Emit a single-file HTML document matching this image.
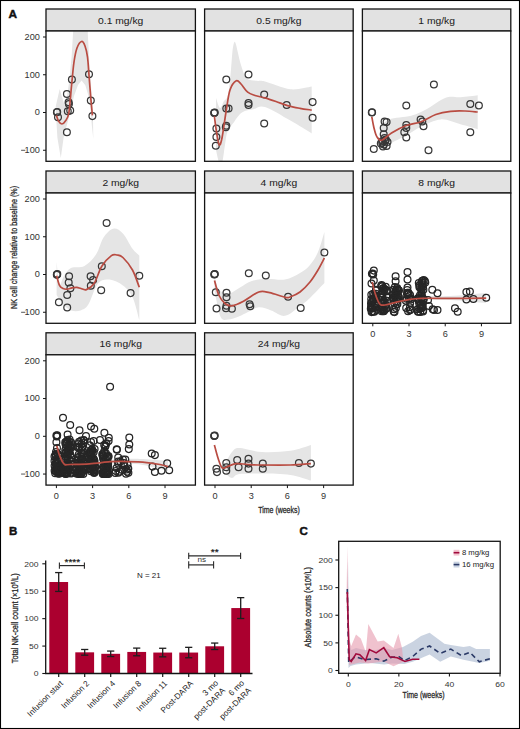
<!DOCTYPE html>
<html><head><meta charset="utf-8"><style>
html,body{margin:0;padding:0;background:#fff;}
svg{display:block;font-family:"Liberation Sans", sans-serif;}
</style></head><body>
<svg width="520" height="729" viewBox="0 0 520 729">
<rect x="0" y="0" width="520" height="729" fill="#fff"/>
<rect x="46.00" y="9.00" width="149.40" height="22.00" fill="#e2e2e2" stroke="#141414" stroke-width="1.3"/>
<text transform="translate(120.70,23.65) scale(1.12,1)" font-size="9.2" text-anchor="middle" fill="#222" font-weight="normal" stroke="#222" stroke-width="0.05" >0.1 mg/kg</text>
<clipPath id="cp00"><rect x="46.00" y="31.00" width="149.40" height="130.30"/></clipPath>
<rect x="46.00" y="31.00" width="149.40" height="130.30" fill="#fff" stroke="none"/>
<g clip-path="url(#cp00)">
<polygon points="55.8,106.0 59.7,89.0 62.0,97.0 64.1,104.0 67.0,96.0 69.3,80.4 71.7,55.7 73.0,33.5 73.5,28.0 88.0,28.0 87.8,33.5 89.6,68.0 91.5,92.7 93.0,120.0 93.3,139.0 93.3,139.0 91.8,125.0 90.3,108.0 88.5,96.0 85.3,85.3 81.6,80.4 78.0,85.0 74.0,96.0 70.0,114.0 66.0,128.0 63.6,137.8 60.8,158.0 57.4,137.8 55.8,112.0" fill="#e5e5e5"/>
<circle cx="56.9" cy="112.2" r="3.4" fill="none" stroke="#383838" stroke-width="1.25"/>
<circle cx="57.2" cy="111.9" r="3.4" fill="none" stroke="#383838" stroke-width="1.25"/>
<circle cx="58.0" cy="117.2" r="3.4" fill="none" stroke="#383838" stroke-width="1.25"/>
<circle cx="66.9" cy="93.9" r="3.4" fill="none" stroke="#383838" stroke-width="1.25"/>
<circle cx="68.6" cy="102.2" r="3.4" fill="none" stroke="#383838" stroke-width="1.25"/>
<circle cx="68.9" cy="104.0" r="3.4" fill="none" stroke="#383838" stroke-width="1.25"/>
<circle cx="70.2" cy="110.6" r="3.4" fill="none" stroke="#383838" stroke-width="1.25"/>
<circle cx="67.8" cy="111.2" r="3.4" fill="none" stroke="#383838" stroke-width="1.25"/>
<circle cx="66.9" cy="132.2" r="3.4" fill="none" stroke="#383838" stroke-width="1.25"/>
<circle cx="71.9" cy="79.6" r="3.4" fill="none" stroke="#383838" stroke-width="1.25"/>
<circle cx="89.0" cy="74.3" r="3.4" fill="none" stroke="#383838" stroke-width="1.25"/>
<circle cx="90.8" cy="100.6" r="3.4" fill="none" stroke="#383838" stroke-width="1.25"/>
<circle cx="92.4" cy="116.1" r="3.4" fill="none" stroke="#383838" stroke-width="1.25"/>
<path d="M56.40,115.40 C56.75,116.33 57.58,119.57 58.50,121.00 C59.42,122.43 60.75,124.00 61.90,124.00 C63.05,124.00 64.23,122.90 65.40,121.00 C66.57,119.10 67.87,118.60 68.90,112.60 C69.93,106.60 70.75,93.43 71.60,85.00 C72.45,76.57 73.10,68.17 74.00,62.00 C74.90,55.83 75.73,51.42 77.00,48.00 C78.27,44.58 80.27,41.83 81.60,41.50 C82.93,41.17 84.02,43.42 85.00,46.00 C85.98,48.58 86.83,52.13 87.50,57.00 C88.17,61.87 88.45,68.37 89.00,75.20 C89.55,82.03 90.23,91.30 90.80,98.00 C91.37,104.70 92.13,112.50 92.40,115.40" fill="none" stroke="#b94c42" stroke-width="1.7"/>
</g>
<rect x="46.00" y="31.00" width="149.40" height="130.30" fill="none" stroke="#141414" stroke-width="1.3"/>
<line x1="43.00" y1="37.00" x2="46.00" y2="37.00" stroke="#141414" stroke-width="1"/>
<text transform="translate(39.90,39.90) scale(1.12,1)" font-size="8.2" text-anchor="end" fill="#333" font-weight="normal" >200</text>
<line x1="43.00" y1="74.75" x2="46.00" y2="74.75" stroke="#141414" stroke-width="1"/>
<text transform="translate(39.90,77.65) scale(1.12,1)" font-size="8.2" text-anchor="end" fill="#333" font-weight="normal" >100</text>
<line x1="43.00" y1="112.50" x2="46.00" y2="112.50" stroke="#141414" stroke-width="1"/>
<text transform="translate(39.90,115.40) scale(1.12,1)" font-size="8.2" text-anchor="end" fill="#333" font-weight="normal" >0</text>
<line x1="43.00" y1="150.25" x2="46.00" y2="150.25" stroke="#141414" stroke-width="1"/>
<text transform="translate(39.90,153.15) scale(1.12,1)" font-size="8.2" text-anchor="end" fill="#333" font-weight="normal" >100</text>
<rect x="21.1" y="149.80" width="4.2" height="0.9" fill="#444"/>
<rect x="204.60" y="9.00" width="148.60" height="22.00" fill="#e2e2e2" stroke="#141414" stroke-width="1.3"/>
<text transform="translate(278.90,23.65) scale(1.12,1)" font-size="9.2" text-anchor="middle" fill="#222" font-weight="normal" stroke="#222" stroke-width="0.05" >0.5 mg/kg</text>
<clipPath id="cp01"><rect x="204.60" y="31.00" width="148.60" height="130.30"/></clipPath>
<rect x="204.60" y="31.00" width="148.60" height="130.30" fill="#fff" stroke="none"/>
<g clip-path="url(#cp01)">
<path d="M216.00,98.00 C216.67,99.67 218.67,107.50 220.00,108.00 C221.33,108.50 222.75,102.83 224.00,101.00 C225.25,99.17 226.63,99.33 227.50,97.00 C228.37,94.67 228.62,91.57 229.20,87.00 C229.78,82.43 230.43,75.77 231.00,69.60 C231.57,63.43 232.03,54.62 232.60,50.00 C233.17,45.38 233.83,42.82 234.40,41.90 C234.97,40.98 235.43,42.77 236.00,44.50 C236.57,46.23 236.92,48.70 237.80,52.30 C238.68,55.90 239.85,61.78 241.30,66.10 C242.75,70.42 243.90,75.75 246.50,78.20 C249.10,80.65 253.82,80.23 256.90,80.80 C259.98,81.37 259.42,80.18 265.00,81.60 C270.58,83.02 282.62,88.48 290.40,89.30 C298.18,90.12 308.15,86.97 311.70,86.50 L311.70,133.40 C308.15,131.27 298.18,125.00 290.40,120.60 C282.62,116.20 271.17,108.88 265.00,107.00 C258.83,105.12 256.77,108.63 253.40,109.30 C250.03,109.97 247.10,110.13 244.80,111.00 C242.50,111.87 241.33,112.77 239.60,114.50 C237.87,116.23 236.42,118.52 234.40,121.40 C232.38,124.28 229.08,127.77 227.50,131.80 C225.92,135.83 225.77,140.57 224.90,145.60 C224.03,150.63 223.28,159.27 222.30,162.00 C221.32,164.73 220.05,164.00 219.00,162.00 C217.95,160.00 216.50,152.00 216.00,150.00 Z" fill="#e5e5e5"/>
<circle cx="214.4" cy="112.7" r="3.4" fill="none" stroke="#383838" stroke-width="1.25"/>
<circle cx="214.7" cy="112.4" r="3.4" fill="none" stroke="#383838" stroke-width="1.25"/>
<circle cx="214.2" cy="113.0" r="3.4" fill="none" stroke="#383838" stroke-width="1.25"/>
<circle cx="216.4" cy="128.6" r="3.4" fill="none" stroke="#383838" stroke-width="1.25"/>
<circle cx="216.4" cy="136.9" r="3.4" fill="none" stroke="#383838" stroke-width="1.25"/>
<circle cx="215.8" cy="145.7" r="3.4" fill="none" stroke="#383838" stroke-width="1.25"/>
<circle cx="225.8" cy="127.2" r="3.4" fill="none" stroke="#383838" stroke-width="1.25"/>
<circle cx="226.3" cy="125.8" r="3.4" fill="none" stroke="#383838" stroke-width="1.25"/>
<circle cx="226.3" cy="108.4" r="3.4" fill="none" stroke="#383838" stroke-width="1.25"/>
<circle cx="228.6" cy="108.4" r="3.4" fill="none" stroke="#383838" stroke-width="1.25"/>
<circle cx="226.3" cy="79.4" r="3.4" fill="none" stroke="#383838" stroke-width="1.25"/>
<circle cx="248.5" cy="74.5" r="3.4" fill="none" stroke="#383838" stroke-width="1.25"/>
<circle cx="248.5" cy="103.0" r="3.4" fill="none" stroke="#383838" stroke-width="1.25"/>
<circle cx="248.5" cy="105.0" r="3.4" fill="none" stroke="#383838" stroke-width="1.25"/>
<circle cx="264.2" cy="94.5" r="3.4" fill="none" stroke="#383838" stroke-width="1.25"/>
<circle cx="264.2" cy="123.5" r="3.4" fill="none" stroke="#383838" stroke-width="1.25"/>
<circle cx="286.7" cy="105.0" r="3.4" fill="none" stroke="#383838" stroke-width="1.25"/>
<circle cx="312.6" cy="102.1" r="3.4" fill="none" stroke="#383838" stroke-width="1.25"/>
<circle cx="312.6" cy="117.8" r="3.4" fill="none" stroke="#383838" stroke-width="1.25"/>
<path d="M214.40,116.40 C214.75,119.00 215.70,127.27 216.50,132.00 C217.30,136.73 218.28,143.80 219.20,144.80 C220.12,145.80 220.87,143.47 222.00,138.00 C223.13,132.53 224.67,120.00 226.00,112.00 C227.33,104.00 228.28,95.20 230.00,90.00 C231.72,84.80 234.47,81.80 236.30,80.80 C238.13,79.80 239.10,82.10 241.00,84.00 C242.90,85.90 245.37,90.28 247.70,92.20 C250.03,94.12 252.15,94.55 255.00,95.50 C257.85,96.45 261.30,96.90 264.80,97.90 C268.30,98.90 272.22,100.22 276.00,101.50 C279.78,102.78 283.50,104.47 287.50,105.60 C291.50,106.73 295.97,107.55 300.00,108.30 C304.03,109.05 309.75,109.80 311.70,110.10" fill="none" stroke="#b94c42" stroke-width="1.7"/>
</g>
<rect x="204.60" y="31.00" width="148.60" height="130.30" fill="none" stroke="#141414" stroke-width="1.3"/>
<rect x="362.40" y="9.00" width="148.40" height="22.00" fill="#e2e2e2" stroke="#141414" stroke-width="1.3"/>
<text transform="translate(436.60,23.65) scale(1.12,1)" font-size="9.2" text-anchor="middle" fill="#222" font-weight="normal" stroke="#222" stroke-width="0.05" >1 mg/kg</text>
<clipPath id="cp02"><rect x="362.40" y="31.00" width="148.40" height="130.30"/></clipPath>
<rect x="362.40" y="31.00" width="148.40" height="130.30" fill="#fff" stroke="none"/>
<g clip-path="url(#cp02)">
<path d="M380.00,128.00 C381.50,126.57 383.80,121.45 389.00,119.40 C394.20,117.35 405.03,117.35 411.20,115.70 C417.37,114.05 420.25,112.50 426.00,109.50 C431.75,106.50 439.95,99.75 445.70,97.70 C451.45,95.65 455.17,97.60 460.50,97.20 C465.83,96.80 474.83,95.62 477.70,95.30 L477.70,129.20 C474.83,128.38 466.65,125.93 460.50,124.30 C454.35,122.67 447.38,118.98 440.80,119.40 C434.22,119.82 426.75,124.13 421.00,126.80 C415.25,129.47 411.63,132.53 406.30,135.40 C400.97,138.27 393.38,141.57 389.00,144.00 C384.62,146.43 381.50,149.00 380.00,150.00 Z" fill="#e5e5e5"/>
<circle cx="371.8" cy="112.5" r="3.4" fill="none" stroke="#383838" stroke-width="1.25"/>
<circle cx="372.1" cy="112.2" r="3.4" fill="none" stroke="#383838" stroke-width="1.25"/>
<circle cx="373.8" cy="148.9" r="3.4" fill="none" stroke="#383838" stroke-width="1.25"/>
<circle cx="384.6" cy="121.4" r="3.4" fill="none" stroke="#383838" stroke-width="1.25"/>
<circle cx="386.6" cy="122.1" r="3.4" fill="none" stroke="#383838" stroke-width="1.25"/>
<circle cx="383.7" cy="128.0" r="3.4" fill="none" stroke="#383838" stroke-width="1.25"/>
<circle cx="383.7" cy="134.2" r="3.4" fill="none" stroke="#383838" stroke-width="1.25"/>
<circle cx="382.2" cy="142.8" r="3.4" fill="none" stroke="#383838" stroke-width="1.25"/>
<circle cx="385.4" cy="140.3" r="3.4" fill="none" stroke="#383838" stroke-width="1.25"/>
<circle cx="386.6" cy="146.0" r="3.4" fill="none" stroke="#383838" stroke-width="1.25"/>
<circle cx="384.6" cy="138.0" r="3.4" fill="none" stroke="#383838" stroke-width="1.25"/>
<circle cx="382.5" cy="141.0" r="3.4" fill="none" stroke="#383838" stroke-width="1.25"/>
<circle cx="384.0" cy="144.5" r="3.4" fill="none" stroke="#383838" stroke-width="1.25"/>
<circle cx="385.8" cy="139.5" r="3.4" fill="none" stroke="#383838" stroke-width="1.25"/>
<circle cx="383.0" cy="146.5" r="3.4" fill="none" stroke="#383838" stroke-width="1.25"/>
<circle cx="380.8" cy="143.5" r="3.4" fill="none" stroke="#383838" stroke-width="1.25"/>
<circle cx="387.5" cy="142.0" r="3.4" fill="none" stroke="#383838" stroke-width="1.25"/>
<circle cx="406.3" cy="105.4" r="3.4" fill="none" stroke="#383838" stroke-width="1.25"/>
<circle cx="406.3" cy="125.0" r="3.4" fill="none" stroke="#383838" stroke-width="1.25"/>
<circle cx="406.3" cy="128.0" r="3.4" fill="none" stroke="#383838" stroke-width="1.25"/>
<circle cx="404.3" cy="132.2" r="3.4" fill="none" stroke="#383838" stroke-width="1.25"/>
<circle cx="406.3" cy="137.4" r="3.4" fill="none" stroke="#383838" stroke-width="1.25"/>
<circle cx="420.6" cy="119.4" r="3.4" fill="none" stroke="#383838" stroke-width="1.25"/>
<circle cx="422.3" cy="121.4" r="3.4" fill="none" stroke="#383838" stroke-width="1.25"/>
<circle cx="423.5" cy="126.3" r="3.4" fill="none" stroke="#383838" stroke-width="1.25"/>
<circle cx="433.9" cy="84.4" r="3.4" fill="none" stroke="#383838" stroke-width="1.25"/>
<circle cx="428.5" cy="150.2" r="3.4" fill="none" stroke="#383838" stroke-width="1.25"/>
<circle cx="470.3" cy="103.9" r="3.4" fill="none" stroke="#383838" stroke-width="1.25"/>
<circle cx="478.9" cy="105.4" r="3.4" fill="none" stroke="#383838" stroke-width="1.25"/>
<circle cx="470.3" cy="132.2" r="3.4" fill="none" stroke="#383838" stroke-width="1.25"/>
<path d="M371.80,116.90 C372.17,118.75 373.17,124.72 374.00,128.00 C374.83,131.28 375.52,134.55 376.80,136.60 C378.08,138.65 379.25,140.92 381.70,140.30 C384.15,139.68 387.40,135.37 391.50,132.90 C395.60,130.43 401.38,127.35 406.30,125.50 C411.22,123.65 416.08,123.63 421.00,121.80 C425.92,119.97 430.87,116.25 435.80,114.50 C440.73,112.75 445.73,111.88 450.60,111.30 C455.47,110.72 460.48,110.88 465.00,111.00 C469.52,111.12 475.58,111.83 477.70,112.00" fill="none" stroke="#b94c42" stroke-width="1.7"/>
</g>
<rect x="362.40" y="31.00" width="148.40" height="130.30" fill="none" stroke="#141414" stroke-width="1.3"/>
<rect x="46.00" y="171.00" width="149.40" height="22.00" fill="#e2e2e2" stroke="#141414" stroke-width="1.3"/>
<text transform="translate(120.70,185.65) scale(1.12,1)" font-size="9.2" text-anchor="middle" fill="#222" font-weight="normal" stroke="#222" stroke-width="0.05" >2 mg/kg</text>
<clipPath id="cp10"><rect x="46.00" y="193.00" width="149.40" height="130.30"/></clipPath>
<rect x="46.00" y="193.00" width="149.40" height="130.30" fill="#fff" stroke="none"/>
<g clip-path="url(#cp10)">
<path d="M56.60,262.00 C57.08,265.67 58.27,281.67 59.50,284.00 C60.73,286.33 62.08,278.67 64.00,276.00 C65.92,273.33 67.58,269.67 71.00,268.00 C74.42,266.33 80.33,268.23 84.50,266.00 C88.67,263.77 92.80,259.38 96.00,254.60 C99.20,249.82 100.82,241.62 103.70,237.30 C106.58,232.98 110.10,229.33 113.30,228.70 C116.50,228.07 119.70,230.15 122.90,233.50 C126.10,236.85 129.77,245.12 132.50,248.80 C135.23,252.48 138.17,254.47 139.30,255.60 L139.30,320.00 C138.17,316.15 135.23,302.67 132.50,296.90 C129.77,291.13 126.73,288.28 122.90,285.40 C119.07,282.52 113.67,279.92 109.50,279.60 C105.33,279.28 101.43,279.33 97.90,283.50 C94.37,287.67 91.18,300.12 88.30,304.60 C85.42,309.08 83.48,309.43 80.60,310.40 C77.72,311.37 73.88,311.37 71.00,310.40 C68.12,309.43 65.70,307.17 63.30,304.60 C60.90,302.03 57.72,296.60 56.60,295.00 Z" fill="#e5e5e5"/>
<circle cx="57.0" cy="274.4" r="3.4" fill="none" stroke="#383838" stroke-width="1.25"/>
<circle cx="57.3" cy="274.1" r="3.4" fill="none" stroke="#383838" stroke-width="1.25"/>
<circle cx="56.8" cy="274.7" r="3.4" fill="none" stroke="#383838" stroke-width="1.25"/>
<circle cx="58.9" cy="302.3" r="3.4" fill="none" stroke="#383838" stroke-width="1.25"/>
<circle cx="67.2" cy="307.5" r="3.4" fill="none" stroke="#383838" stroke-width="1.25"/>
<circle cx="69.1" cy="276.3" r="3.4" fill="none" stroke="#383838" stroke-width="1.25"/>
<circle cx="68.7" cy="282.5" r="3.4" fill="none" stroke="#383838" stroke-width="1.25"/>
<circle cx="70.4" cy="288.3" r="3.4" fill="none" stroke="#383838" stroke-width="1.25"/>
<circle cx="67.2" cy="295.0" r="3.4" fill="none" stroke="#383838" stroke-width="1.25"/>
<circle cx="90.6" cy="276.2" r="3.4" fill="none" stroke="#383838" stroke-width="1.25"/>
<circle cx="93.1" cy="280.0" r="3.4" fill="none" stroke="#383838" stroke-width="1.25"/>
<circle cx="90.8" cy="285.8" r="3.4" fill="none" stroke="#383838" stroke-width="1.25"/>
<circle cx="101.8" cy="266.2" r="3.4" fill="none" stroke="#383838" stroke-width="1.25"/>
<circle cx="101.2" cy="290.2" r="3.4" fill="none" stroke="#383838" stroke-width="1.25"/>
<circle cx="106.6" cy="222.9" r="3.4" fill="none" stroke="#383838" stroke-width="1.25"/>
<circle cx="130.6" cy="293.1" r="3.4" fill="none" stroke="#383838" stroke-width="1.25"/>
<circle cx="139.3" cy="275.8" r="3.4" fill="none" stroke="#383838" stroke-width="1.25"/>
<path d="M56.60,275.80 C57.08,277.40 58.43,283.28 59.50,285.40 C60.57,287.52 61.72,287.87 63.00,288.50 C64.28,289.13 65.70,289.32 67.20,289.20 C68.70,289.08 70.40,288.12 72.00,287.80 C73.60,287.48 75.30,287.18 76.80,287.30 C78.30,287.42 79.40,288.12 81.00,288.50 C82.60,288.88 84.22,290.43 86.40,289.60 C88.58,288.77 91.53,287.40 94.10,283.50 C96.67,279.60 98.92,270.85 101.80,266.20 C104.68,261.55 108.87,257.47 111.40,255.60 C113.93,253.73 115.08,254.68 117.00,255.00 C118.92,255.32 120.32,255.00 122.90,257.50 C125.48,260.00 129.77,265.03 132.50,270.00 C135.23,274.97 138.17,284.42 139.30,287.30" fill="none" stroke="#b94c42" stroke-width="1.7"/>
</g>
<rect x="46.00" y="193.00" width="149.40" height="130.30" fill="none" stroke="#141414" stroke-width="1.3"/>
<line x1="43.00" y1="199.00" x2="46.00" y2="199.00" stroke="#141414" stroke-width="1"/>
<text transform="translate(39.90,201.90) scale(1.12,1)" font-size="8.2" text-anchor="end" fill="#333" font-weight="normal" >200</text>
<line x1="43.00" y1="236.75" x2="46.00" y2="236.75" stroke="#141414" stroke-width="1"/>
<text transform="translate(39.90,239.65) scale(1.12,1)" font-size="8.2" text-anchor="end" fill="#333" font-weight="normal" >100</text>
<line x1="43.00" y1="274.50" x2="46.00" y2="274.50" stroke="#141414" stroke-width="1"/>
<text transform="translate(39.90,277.40) scale(1.12,1)" font-size="8.2" text-anchor="end" fill="#333" font-weight="normal" >0</text>
<line x1="43.00" y1="312.25" x2="46.00" y2="312.25" stroke="#141414" stroke-width="1"/>
<text transform="translate(39.90,315.15) scale(1.12,1)" font-size="8.2" text-anchor="end" fill="#333" font-weight="normal" >100</text>
<rect x="21.1" y="311.80" width="4.2" height="0.9" fill="#444"/>
<rect x="204.60" y="171.00" width="148.60" height="22.00" fill="#e2e2e2" stroke="#141414" stroke-width="1.3"/>
<text transform="translate(278.90,185.65) scale(1.12,1)" font-size="9.2" text-anchor="middle" fill="#222" font-weight="normal" stroke="#222" stroke-width="0.05" >4 mg/kg</text>
<clipPath id="cp11"><rect x="204.60" y="193.00" width="148.60" height="130.30"/></clipPath>
<rect x="204.60" y="193.00" width="148.60" height="130.30" fill="#fff" stroke="none"/>
<g clip-path="url(#cp11)">
<path d="M214.50,277.00 C215.08,278.83 216.75,285.50 218.00,288.00 C219.25,290.50 220.07,291.08 222.00,292.00 C223.93,292.92 226.53,294.28 229.60,293.50 C232.67,292.72 236.80,289.35 240.40,287.30 C244.00,285.25 246.85,282.62 251.20,281.20 C255.55,279.78 260.87,279.07 266.50,278.80 C272.13,278.53 279.42,280.57 285.00,279.60 C290.58,278.63 295.83,275.43 300.00,273.00 C304.17,270.57 307.00,268.50 310.00,265.00 C313.00,261.50 315.60,257.50 318.00,252.00 C320.40,246.50 323.33,235.33 324.40,232.00 L324.40,283.10 C322.00,285.58 314.07,294.18 310.00,298.00 C305.93,301.82 304.17,303.03 300.00,306.00 C295.83,308.97 289.80,315.07 285.00,315.80 C280.20,316.53 275.57,311.82 271.20,310.40 C266.83,308.98 262.67,307.03 258.80,307.30 C254.93,307.57 251.33,310.47 248.00,312.00 C244.67,313.53 242.13,315.23 238.80,316.50 C235.47,317.77 231.07,319.60 228.00,319.60 C224.93,319.60 222.65,321.43 220.40,316.50 C218.15,311.57 215.48,294.42 214.50,290.00 Z" fill="#e5e5e5"/>
<circle cx="214.5" cy="274.2" r="3.4" fill="none" stroke="#383838" stroke-width="1.25"/>
<circle cx="214.8" cy="273.9" r="3.4" fill="none" stroke="#383838" stroke-width="1.25"/>
<circle cx="214.3" cy="274.5" r="3.4" fill="none" stroke="#383838" stroke-width="1.25"/>
<circle cx="215.8" cy="292.2" r="3.4" fill="none" stroke="#383838" stroke-width="1.25"/>
<circle cx="216.5" cy="308.5" r="3.4" fill="none" stroke="#383838" stroke-width="1.25"/>
<circle cx="226.5" cy="292.7" r="3.4" fill="none" stroke="#383838" stroke-width="1.25"/>
<circle cx="226.5" cy="297.3" r="3.4" fill="none" stroke="#383838" stroke-width="1.25"/>
<circle cx="226.5" cy="305.8" r="3.4" fill="none" stroke="#383838" stroke-width="1.25"/>
<circle cx="226.0" cy="308.3" r="3.4" fill="none" stroke="#383838" stroke-width="1.25"/>
<circle cx="231.9" cy="308.8" r="3.4" fill="none" stroke="#383838" stroke-width="1.25"/>
<circle cx="248.8" cy="273.2" r="3.4" fill="none" stroke="#383838" stroke-width="1.25"/>
<circle cx="249.6" cy="304.2" r="3.4" fill="none" stroke="#383838" stroke-width="1.25"/>
<circle cx="250.3" cy="306.3" r="3.4" fill="none" stroke="#383838" stroke-width="1.25"/>
<circle cx="265.8" cy="275.5" r="3.4" fill="none" stroke="#383838" stroke-width="1.25"/>
<circle cx="288.1" cy="296.8" r="3.4" fill="none" stroke="#383838" stroke-width="1.25"/>
<circle cx="300.7" cy="308.0" r="3.4" fill="none" stroke="#383838" stroke-width="1.25"/>
<circle cx="324.4" cy="252.5" r="3.4" fill="none" stroke="#383838" stroke-width="1.25"/>
<path d="M214.50,280.40 C215.22,282.83 217.05,291.15 218.80,295.00 C220.55,298.85 222.82,301.70 225.00,303.50 C227.18,305.30 228.82,306.18 231.90,305.80 C234.98,305.42 239.02,303.50 243.50,301.20 C247.98,298.90 254.45,293.42 258.80,292.00 C263.15,290.58 265.23,291.82 269.60,292.70 C273.97,293.58 281.60,296.58 285.00,297.30 C288.40,298.02 287.50,297.88 290.00,297.00 C292.50,296.12 296.67,294.50 300.00,292.00 C303.33,289.50 307.00,285.67 310.00,282.00 C313.00,278.33 315.60,274.00 318.00,270.00 C320.40,266.00 323.33,260.00 324.40,258.00" fill="none" stroke="#b94c42" stroke-width="1.7"/>
</g>
<rect x="204.60" y="193.00" width="148.60" height="130.30" fill="none" stroke="#141414" stroke-width="1.3"/>
<rect x="362.40" y="171.00" width="148.40" height="22.00" fill="#e2e2e2" stroke="#141414" stroke-width="1.3"/>
<text transform="translate(436.60,185.65) scale(1.12,1)" font-size="9.2" text-anchor="middle" fill="#222" font-weight="normal" stroke="#222" stroke-width="0.05" >8 mg/kg</text>
<clipPath id="cp12"><rect x="362.40" y="193.00" width="148.40" height="130.30"/></clipPath>
<rect x="362.40" y="193.00" width="148.40" height="130.30" fill="#fff" stroke="none"/>
<g clip-path="url(#cp12)">
<path d="M372.20,276.00 C373.50,280.00 376.20,296.17 380.00,300.00 C383.80,303.83 388.33,299.67 395.00,299.00 C401.67,298.33 410.83,296.50 420.00,296.00 C429.17,295.50 439.00,296.50 450.00,296.00 C461.00,295.50 480.00,293.50 486.00,293.00 L486.00,303.00 C480.00,302.50 461.00,300.50 450.00,300.00 C439.00,299.50 429.17,299.17 420.00,300.00 C410.83,300.83 401.67,303.50 395.00,305.00 C388.33,306.50 383.80,311.50 380.00,309.00 C376.20,306.50 373.50,293.17 372.20,290.00 Z" fill="#e5e5e5"/>
<circle cx="371.9" cy="273.8" r="3.4" fill="none" stroke="#262626" stroke-width="1.25"/>
<circle cx="373.8" cy="270.6" r="3.4" fill="none" stroke="#262626" stroke-width="1.25"/>
<circle cx="372.8" cy="273.5" r="3.4" fill="none" stroke="#262626" stroke-width="1.25"/>
<circle cx="373.2" cy="274.5" r="3.4" fill="none" stroke="#262626" stroke-width="1.25"/>
<circle cx="373.8" cy="280.6" r="3.4" fill="none" stroke="#262626" stroke-width="1.25"/>
<circle cx="371.5" cy="283.5" r="3.4" fill="none" stroke="#262626" stroke-width="1.25"/>
<circle cx="373.2" cy="301.0" r="3.4" fill="none" stroke="#262626" stroke-width="1.25"/>
<circle cx="375.6" cy="303.2" r="3.4" fill="none" stroke="#262626" stroke-width="1.25"/>
<circle cx="373.4" cy="300.3" r="3.4" fill="none" stroke="#262626" stroke-width="1.25"/>
<circle cx="371.8" cy="302.1" r="3.4" fill="none" stroke="#262626" stroke-width="1.25"/>
<circle cx="374.1" cy="295.1" r="3.4" fill="none" stroke="#262626" stroke-width="1.25"/>
<circle cx="371.3" cy="306.8" r="3.4" fill="none" stroke="#262626" stroke-width="1.25"/>
<circle cx="371.3" cy="294.7" r="3.4" fill="none" stroke="#262626" stroke-width="1.25"/>
<circle cx="374.4" cy="311.7" r="3.4" fill="none" stroke="#262626" stroke-width="1.25"/>
<circle cx="375.9" cy="290.6" r="3.4" fill="none" stroke="#262626" stroke-width="1.25"/>
<circle cx="374.2" cy="299.6" r="3.4" fill="none" stroke="#262626" stroke-width="1.25"/>
<circle cx="371.6" cy="312.1" r="3.4" fill="none" stroke="#262626" stroke-width="1.25"/>
<circle cx="373.5" cy="311.5" r="3.4" fill="none" stroke="#262626" stroke-width="1.25"/>
<circle cx="371.8" cy="308.1" r="3.4" fill="none" stroke="#262626" stroke-width="1.25"/>
<circle cx="371.0" cy="303.2" r="3.4" fill="none" stroke="#262626" stroke-width="1.25"/>
<circle cx="373.1" cy="293.8" r="3.4" fill="none" stroke="#262626" stroke-width="1.25"/>
<circle cx="373.5" cy="299.0" r="3.4" fill="none" stroke="#262626" stroke-width="1.25"/>
<circle cx="373.4" cy="298.4" r="3.4" fill="none" stroke="#262626" stroke-width="1.25"/>
<circle cx="373.2" cy="307.4" r="3.4" fill="none" stroke="#262626" stroke-width="1.25"/>
<circle cx="376.0" cy="289.7" r="3.4" fill="none" stroke="#262626" stroke-width="1.25"/>
<circle cx="375.2" cy="297.3" r="3.4" fill="none" stroke="#262626" stroke-width="1.25"/>
<circle cx="372.4" cy="308.4" r="3.4" fill="none" stroke="#262626" stroke-width="1.25"/>
<circle cx="372.3" cy="311.3" r="3.4" fill="none" stroke="#262626" stroke-width="1.25"/>
<circle cx="374.8" cy="304.7" r="3.4" fill="none" stroke="#262626" stroke-width="1.25"/>
<circle cx="375.2" cy="305.0" r="3.4" fill="none" stroke="#262626" stroke-width="1.25"/>
<circle cx="375.8" cy="293.7" r="3.4" fill="none" stroke="#262626" stroke-width="1.25"/>
<circle cx="370.8" cy="308.8" r="3.4" fill="none" stroke="#262626" stroke-width="1.25"/>
<circle cx="375.5" cy="303.1" r="3.4" fill="none" stroke="#262626" stroke-width="1.25"/>
<circle cx="375.9" cy="304.8" r="3.4" fill="none" stroke="#262626" stroke-width="1.25"/>
<circle cx="371.2" cy="299.3" r="3.4" fill="none" stroke="#262626" stroke-width="1.25"/>
<circle cx="374.8" cy="307.5" r="3.4" fill="none" stroke="#262626" stroke-width="1.25"/>
<circle cx="371.3" cy="306.2" r="3.4" fill="none" stroke="#262626" stroke-width="1.25"/>
<circle cx="375.8" cy="296.0" r="3.4" fill="none" stroke="#262626" stroke-width="1.25"/>
<circle cx="381.8" cy="307.1" r="3.4" fill="none" stroke="#262626" stroke-width="1.25"/>
<circle cx="381.6" cy="311.3" r="3.4" fill="none" stroke="#262626" stroke-width="1.25"/>
<circle cx="386.1" cy="308.8" r="3.4" fill="none" stroke="#262626" stroke-width="1.25"/>
<circle cx="384.6" cy="301.8" r="3.4" fill="none" stroke="#262626" stroke-width="1.25"/>
<circle cx="382.2" cy="293.3" r="3.4" fill="none" stroke="#262626" stroke-width="1.25"/>
<circle cx="381.8" cy="296.0" r="3.4" fill="none" stroke="#262626" stroke-width="1.25"/>
<circle cx="381.7" cy="302.5" r="3.4" fill="none" stroke="#262626" stroke-width="1.25"/>
<circle cx="382.4" cy="306.5" r="3.4" fill="none" stroke="#262626" stroke-width="1.25"/>
<circle cx="387.2" cy="291.1" r="3.4" fill="none" stroke="#262626" stroke-width="1.25"/>
<circle cx="382.9" cy="288.5" r="3.4" fill="none" stroke="#262626" stroke-width="1.25"/>
<circle cx="382.3" cy="303.2" r="3.4" fill="none" stroke="#262626" stroke-width="1.25"/>
<circle cx="386.5" cy="296.1" r="3.4" fill="none" stroke="#262626" stroke-width="1.25"/>
<circle cx="381.6" cy="285.0" r="3.4" fill="none" stroke="#262626" stroke-width="1.25"/>
<circle cx="382.4" cy="306.8" r="3.4" fill="none" stroke="#262626" stroke-width="1.25"/>
<circle cx="385.9" cy="305.0" r="3.4" fill="none" stroke="#262626" stroke-width="1.25"/>
<circle cx="382.9" cy="311.1" r="3.4" fill="none" stroke="#262626" stroke-width="1.25"/>
<circle cx="381.6" cy="297.8" r="3.4" fill="none" stroke="#262626" stroke-width="1.25"/>
<circle cx="382.6" cy="297.3" r="3.4" fill="none" stroke="#262626" stroke-width="1.25"/>
<circle cx="383.4" cy="301.6" r="3.4" fill="none" stroke="#262626" stroke-width="1.25"/>
<circle cx="387.1" cy="300.7" r="3.4" fill="none" stroke="#262626" stroke-width="1.25"/>
<circle cx="384.7" cy="289.0" r="3.4" fill="none" stroke="#262626" stroke-width="1.25"/>
<circle cx="382.2" cy="309.3" r="3.4" fill="none" stroke="#262626" stroke-width="1.25"/>
<circle cx="386.8" cy="290.6" r="3.4" fill="none" stroke="#262626" stroke-width="1.25"/>
<circle cx="382.6" cy="308.5" r="3.4" fill="none" stroke="#262626" stroke-width="1.25"/>
<circle cx="385.7" cy="286.7" r="3.4" fill="none" stroke="#262626" stroke-width="1.25"/>
<circle cx="382.3" cy="286.3" r="3.4" fill="none" stroke="#262626" stroke-width="1.25"/>
<circle cx="386.6" cy="297.2" r="3.4" fill="none" stroke="#262626" stroke-width="1.25"/>
<circle cx="383.7" cy="310.4" r="3.4" fill="none" stroke="#262626" stroke-width="1.25"/>
<circle cx="381.2" cy="285.9" r="3.4" fill="none" stroke="#262626" stroke-width="1.25"/>
<circle cx="382.5" cy="294.1" r="3.4" fill="none" stroke="#262626" stroke-width="1.25"/>
<circle cx="382.6" cy="290.4" r="3.4" fill="none" stroke="#262626" stroke-width="1.25"/>
<circle cx="384.8" cy="305.9" r="3.4" fill="none" stroke="#262626" stroke-width="1.25"/>
<circle cx="382.1" cy="293.7" r="3.4" fill="none" stroke="#262626" stroke-width="1.25"/>
<circle cx="381.4" cy="307.6" r="3.4" fill="none" stroke="#262626" stroke-width="1.25"/>
<circle cx="384.6" cy="289.5" r="3.4" fill="none" stroke="#262626" stroke-width="1.25"/>
<circle cx="384.9" cy="306.3" r="3.4" fill="none" stroke="#262626" stroke-width="1.25"/>
<circle cx="386.9" cy="308.2" r="3.4" fill="none" stroke="#262626" stroke-width="1.25"/>
<circle cx="381.1" cy="306.5" r="3.4" fill="none" stroke="#262626" stroke-width="1.25"/>
<circle cx="383.9" cy="311.3" r="3.4" fill="none" stroke="#262626" stroke-width="1.25"/>
<circle cx="382.1" cy="303.9" r="3.4" fill="none" stroke="#262626" stroke-width="1.25"/>
<circle cx="384.7" cy="309.8" r="3.4" fill="none" stroke="#262626" stroke-width="1.25"/>
<circle cx="383.3" cy="288.3" r="3.4" fill="none" stroke="#262626" stroke-width="1.25"/>
<circle cx="398.9" cy="297.0" r="3.4" fill="none" stroke="#262626" stroke-width="1.25"/>
<circle cx="397.1" cy="299.0" r="3.4" fill="none" stroke="#262626" stroke-width="1.25"/>
<circle cx="393.8" cy="311.8" r="3.4" fill="none" stroke="#262626" stroke-width="1.25"/>
<circle cx="393.1" cy="289.7" r="3.4" fill="none" stroke="#262626" stroke-width="1.25"/>
<circle cx="397.2" cy="288.1" r="3.4" fill="none" stroke="#262626" stroke-width="1.25"/>
<circle cx="393.1" cy="297.6" r="3.4" fill="none" stroke="#262626" stroke-width="1.25"/>
<circle cx="395.9" cy="294.9" r="3.4" fill="none" stroke="#262626" stroke-width="1.25"/>
<circle cx="394.9" cy="287.0" r="3.4" fill="none" stroke="#262626" stroke-width="1.25"/>
<circle cx="393.5" cy="300.0" r="3.4" fill="none" stroke="#262626" stroke-width="1.25"/>
<circle cx="397.4" cy="290.0" r="3.4" fill="none" stroke="#262626" stroke-width="1.25"/>
<circle cx="397.4" cy="295.7" r="3.4" fill="none" stroke="#262626" stroke-width="1.25"/>
<circle cx="397.8" cy="289.5" r="3.4" fill="none" stroke="#262626" stroke-width="1.25"/>
<circle cx="395.1" cy="296.2" r="3.4" fill="none" stroke="#262626" stroke-width="1.25"/>
<circle cx="398.4" cy="290.8" r="3.4" fill="none" stroke="#262626" stroke-width="1.25"/>
<circle cx="395.5" cy="293.2" r="3.4" fill="none" stroke="#262626" stroke-width="1.25"/>
<circle cx="398.2" cy="299.3" r="3.4" fill="none" stroke="#262626" stroke-width="1.25"/>
<circle cx="396.7" cy="304.3" r="3.4" fill="none" stroke="#262626" stroke-width="1.25"/>
<circle cx="396.5" cy="298.3" r="3.4" fill="none" stroke="#262626" stroke-width="1.25"/>
<circle cx="393.5" cy="297.5" r="3.4" fill="none" stroke="#262626" stroke-width="1.25"/>
<circle cx="399.0" cy="290.6" r="3.4" fill="none" stroke="#262626" stroke-width="1.25"/>
<circle cx="397.4" cy="304.1" r="3.4" fill="none" stroke="#262626" stroke-width="1.25"/>
<circle cx="397.4" cy="299.1" r="3.4" fill="none" stroke="#262626" stroke-width="1.25"/>
<circle cx="395.6" cy="291.8" r="3.4" fill="none" stroke="#262626" stroke-width="1.25"/>
<circle cx="393.5" cy="294.3" r="3.4" fill="none" stroke="#262626" stroke-width="1.25"/>
<circle cx="393.2" cy="298.5" r="3.4" fill="none" stroke="#262626" stroke-width="1.25"/>
<circle cx="395.9" cy="307.9" r="3.4" fill="none" stroke="#262626" stroke-width="1.25"/>
<circle cx="397.2" cy="301.3" r="3.4" fill="none" stroke="#262626" stroke-width="1.25"/>
<circle cx="396.7" cy="289.4" r="3.4" fill="none" stroke="#262626" stroke-width="1.25"/>
<circle cx="394.5" cy="312.1" r="3.4" fill="none" stroke="#262626" stroke-width="1.25"/>
<circle cx="394.8" cy="296.4" r="3.4" fill="none" stroke="#262626" stroke-width="1.25"/>
<circle cx="394.2" cy="309.2" r="3.4" fill="none" stroke="#262626" stroke-width="1.25"/>
<circle cx="398.4" cy="296.9" r="3.4" fill="none" stroke="#262626" stroke-width="1.25"/>
<circle cx="395.7" cy="290.2" r="3.4" fill="none" stroke="#262626" stroke-width="1.25"/>
<circle cx="395.0" cy="296.7" r="3.4" fill="none" stroke="#262626" stroke-width="1.25"/>
<circle cx="394.2" cy="303.0" r="3.4" fill="none" stroke="#262626" stroke-width="1.25"/>
<circle cx="397.8" cy="289.5" r="3.4" fill="none" stroke="#262626" stroke-width="1.25"/>
<circle cx="423.0" cy="301.7" r="3.4" fill="none" stroke="#262626" stroke-width="1.25"/>
<circle cx="421.1" cy="303.9" r="3.4" fill="none" stroke="#262626" stroke-width="1.25"/>
<circle cx="418.3" cy="297.9" r="3.4" fill="none" stroke="#262626" stroke-width="1.25"/>
<circle cx="422.8" cy="285.0" r="3.4" fill="none" stroke="#262626" stroke-width="1.25"/>
<circle cx="422.0" cy="281.0" r="3.4" fill="none" stroke="#262626" stroke-width="1.25"/>
<circle cx="419.2" cy="308.3" r="3.4" fill="none" stroke="#262626" stroke-width="1.25"/>
<circle cx="420.3" cy="305.2" r="3.4" fill="none" stroke="#262626" stroke-width="1.25"/>
<circle cx="418.8" cy="300.7" r="3.4" fill="none" stroke="#262626" stroke-width="1.25"/>
<circle cx="421.4" cy="298.0" r="3.4" fill="none" stroke="#262626" stroke-width="1.25"/>
<circle cx="419.4" cy="285.3" r="3.4" fill="none" stroke="#262626" stroke-width="1.25"/>
<circle cx="423.7" cy="299.4" r="3.4" fill="none" stroke="#262626" stroke-width="1.25"/>
<circle cx="417.9" cy="311.7" r="3.4" fill="none" stroke="#262626" stroke-width="1.25"/>
<circle cx="423.0" cy="311.5" r="3.4" fill="none" stroke="#262626" stroke-width="1.25"/>
<circle cx="421.9" cy="295.3" r="3.4" fill="none" stroke="#262626" stroke-width="1.25"/>
<circle cx="419.4" cy="287.2" r="3.4" fill="none" stroke="#262626" stroke-width="1.25"/>
<circle cx="417.5" cy="309.2" r="3.4" fill="none" stroke="#262626" stroke-width="1.25"/>
<circle cx="420.3" cy="311.9" r="3.4" fill="none" stroke="#262626" stroke-width="1.25"/>
<circle cx="422.7" cy="306.3" r="3.4" fill="none" stroke="#262626" stroke-width="1.25"/>
<circle cx="418.3" cy="311.4" r="3.4" fill="none" stroke="#262626" stroke-width="1.25"/>
<circle cx="421.4" cy="299.6" r="3.4" fill="none" stroke="#262626" stroke-width="1.25"/>
<circle cx="421.4" cy="292.3" r="3.4" fill="none" stroke="#262626" stroke-width="1.25"/>
<circle cx="422.6" cy="280.7" r="3.4" fill="none" stroke="#262626" stroke-width="1.25"/>
<circle cx="421.8" cy="307.5" r="3.4" fill="none" stroke="#262626" stroke-width="1.25"/>
<circle cx="420.4" cy="308.0" r="3.4" fill="none" stroke="#262626" stroke-width="1.25"/>
<circle cx="417.5" cy="298.7" r="3.4" fill="none" stroke="#262626" stroke-width="1.25"/>
<circle cx="422.0" cy="308.0" r="3.4" fill="none" stroke="#262626" stroke-width="1.25"/>
<circle cx="419.1" cy="303.0" r="3.4" fill="none" stroke="#262626" stroke-width="1.25"/>
<circle cx="421.9" cy="297.1" r="3.4" fill="none" stroke="#262626" stroke-width="1.25"/>
<circle cx="421.3" cy="288.5" r="3.4" fill="none" stroke="#262626" stroke-width="1.25"/>
<circle cx="419.9" cy="287.1" r="3.4" fill="none" stroke="#262626" stroke-width="1.25"/>
<circle cx="423.2" cy="310.5" r="3.4" fill="none" stroke="#262626" stroke-width="1.25"/>
<circle cx="423.4" cy="289.8" r="3.4" fill="none" stroke="#262626" stroke-width="1.25"/>
<circle cx="418.2" cy="299.4" r="3.4" fill="none" stroke="#262626" stroke-width="1.25"/>
<circle cx="421.4" cy="282.6" r="3.4" fill="none" stroke="#262626" stroke-width="1.25"/>
<circle cx="419.8" cy="295.4" r="3.4" fill="none" stroke="#262626" stroke-width="1.25"/>
<circle cx="423.0" cy="287.0" r="3.4" fill="none" stroke="#262626" stroke-width="1.25"/>
<circle cx="423.4" cy="299.0" r="3.4" fill="none" stroke="#262626" stroke-width="1.25"/>
<circle cx="421.6" cy="307.3" r="3.4" fill="none" stroke="#262626" stroke-width="1.25"/>
<circle cx="422.0" cy="286.1" r="3.4" fill="none" stroke="#262626" stroke-width="1.25"/>
<circle cx="421.5" cy="289.9" r="3.4" fill="none" stroke="#262626" stroke-width="1.25"/>
<circle cx="418.8" cy="283.0" r="3.4" fill="none" stroke="#262626" stroke-width="1.25"/>
<circle cx="423.7" cy="279.9" r="3.4" fill="none" stroke="#262626" stroke-width="1.25"/>
<circle cx="408.4" cy="292.7" r="3.4" fill="none" stroke="#262626" stroke-width="1.25"/>
<circle cx="407.2" cy="290.1" r="3.4" fill="none" stroke="#262626" stroke-width="1.25"/>
<circle cx="410.2" cy="302.9" r="3.4" fill="none" stroke="#262626" stroke-width="1.25"/>
<circle cx="405.9" cy="300.7" r="3.4" fill="none" stroke="#262626" stroke-width="1.25"/>
<circle cx="408.5" cy="293.2" r="3.4" fill="none" stroke="#262626" stroke-width="1.25"/>
<circle cx="408.1" cy="311.3" r="3.4" fill="none" stroke="#262626" stroke-width="1.25"/>
<circle cx="409.9" cy="310.2" r="3.4" fill="none" stroke="#262626" stroke-width="1.25"/>
<circle cx="409.9" cy="307.3" r="3.4" fill="none" stroke="#262626" stroke-width="1.25"/>
<circle cx="407.3" cy="292.8" r="3.4" fill="none" stroke="#262626" stroke-width="1.25"/>
<circle cx="406.2" cy="307.9" r="3.4" fill="none" stroke="#262626" stroke-width="1.25"/>
<circle cx="408.3" cy="294.2" r="3.4" fill="none" stroke="#262626" stroke-width="1.25"/>
<circle cx="410.1" cy="295.0" r="3.4" fill="none" stroke="#262626" stroke-width="1.25"/>
<circle cx="410.7" cy="299.5" r="3.4" fill="none" stroke="#262626" stroke-width="1.25"/>
<circle cx="410.7" cy="309.6" r="3.4" fill="none" stroke="#262626" stroke-width="1.25"/>
<circle cx="406.6" cy="298.7" r="3.4" fill="none" stroke="#262626" stroke-width="1.25"/>
<circle cx="407.0" cy="294.1" r="3.4" fill="none" stroke="#262626" stroke-width="1.25"/>
<circle cx="409.0" cy="298.8" r="3.4" fill="none" stroke="#262626" stroke-width="1.25"/>
<circle cx="410.1" cy="297.9" r="3.4" fill="none" stroke="#262626" stroke-width="1.25"/>
<circle cx="407.5" cy="271.9" r="3.4" fill="none" stroke="#262626" stroke-width="1.25"/>
<circle cx="407.5" cy="279.4" r="3.4" fill="none" stroke="#262626" stroke-width="1.25"/>
<circle cx="407.5" cy="287.5" r="3.4" fill="none" stroke="#262626" stroke-width="1.25"/>
<circle cx="395.6" cy="276.3" r="3.4" fill="none" stroke="#262626" stroke-width="1.25"/>
<circle cx="395.6" cy="281.3" r="3.4" fill="none" stroke="#262626" stroke-width="1.25"/>
<circle cx="424.8" cy="281.0" r="3.4" fill="none" stroke="#262626" stroke-width="1.25"/>
<circle cx="425.3" cy="282.4" r="3.4" fill="none" stroke="#262626" stroke-width="1.25"/>
<circle cx="432.3" cy="289.8" r="3.4" fill="none" stroke="#262626" stroke-width="1.25"/>
<circle cx="437.5" cy="293.3" r="3.4" fill="none" stroke="#262626" stroke-width="1.25"/>
<circle cx="434.0" cy="309.9" r="3.4" fill="none" stroke="#262626" stroke-width="1.25"/>
<circle cx="437.5" cy="309.9" r="3.4" fill="none" stroke="#262626" stroke-width="1.25"/>
<circle cx="432.7" cy="309.2" r="3.4" fill="none" stroke="#262626" stroke-width="1.25"/>
<circle cx="455.0" cy="308.2" r="3.4" fill="none" stroke="#262626" stroke-width="1.25"/>
<circle cx="457.7" cy="311.7" r="3.4" fill="none" stroke="#262626" stroke-width="1.25"/>
<circle cx="466.4" cy="291.9" r="3.4" fill="none" stroke="#262626" stroke-width="1.25"/>
<circle cx="469.9" cy="291.5" r="3.4" fill="none" stroke="#262626" stroke-width="1.25"/>
<circle cx="466.4" cy="299.4" r="3.4" fill="none" stroke="#262626" stroke-width="1.25"/>
<circle cx="473.4" cy="298.9" r="3.4" fill="none" stroke="#262626" stroke-width="1.25"/>
<circle cx="486.2" cy="297.7" r="3.4" fill="none" stroke="#262626" stroke-width="1.25"/>
<circle cx="429.0" cy="306.0" r="3.4" fill="none" stroke="#262626" stroke-width="1.25"/>
<circle cx="428.0" cy="300.0" r="3.4" fill="none" stroke="#262626" stroke-width="1.25"/>
<path d="M372.20,282.00 C372.67,283.83 374.03,289.83 375.00,293.00 C375.97,296.17 377.07,299.03 378.00,301.00 C378.93,302.97 379.43,304.13 380.60,304.80 C381.77,305.47 382.47,305.42 385.00,305.00 C387.53,304.58 392.02,303.17 395.80,302.30 C399.58,301.43 403.47,300.47 407.70,299.80 C411.93,299.13 414.15,298.53 421.20,298.30 C428.25,298.07 439.17,298.42 450.00,298.40 C460.83,298.38 480.17,298.23 486.20,298.20" fill="none" stroke="#b94c42" stroke-width="1.7"/>
</g>
<rect x="362.40" y="193.00" width="148.40" height="130.30" fill="none" stroke="#141414" stroke-width="1.3"/>
<line x1="372.80" y1="323.30" x2="372.80" y2="326.30" stroke="#141414" stroke-width="1"/>
<text transform="translate(372.80,337.10) scale(1.12,1)" font-size="8.2" text-anchor="middle" fill="#333" font-weight="normal" >0</text>
<line x1="409.01" y1="323.30" x2="409.01" y2="326.30" stroke="#141414" stroke-width="1"/>
<text transform="translate(409.01,337.10) scale(1.12,1)" font-size="8.2" text-anchor="middle" fill="#333" font-weight="normal" >3</text>
<line x1="445.22" y1="323.30" x2="445.22" y2="326.30" stroke="#141414" stroke-width="1"/>
<text transform="translate(445.22,337.10) scale(1.12,1)" font-size="8.2" text-anchor="middle" fill="#333" font-weight="normal" >6</text>
<line x1="481.43" y1="323.30" x2="481.43" y2="326.30" stroke="#141414" stroke-width="1"/>
<text transform="translate(481.43,337.10) scale(1.12,1)" font-size="8.2" text-anchor="middle" fill="#333" font-weight="normal" >9</text>
<rect x="46.00" y="332.80" width="149.40" height="22.00" fill="#e2e2e2" stroke="#141414" stroke-width="1.3"/>
<text transform="translate(120.70,347.45) scale(1.12,1)" font-size="9.2" text-anchor="middle" fill="#222" font-weight="normal" stroke="#222" stroke-width="0.05" >16 mg/kg</text>
<clipPath id="cp20"><rect x="46.00" y="354.80" width="149.40" height="130.30"/></clipPath>
<rect x="46.00" y="354.80" width="149.40" height="130.30" fill="#fff" stroke="none"/>
<g clip-path="url(#cp20)">
<path d="M56.80,440.00 C58.00,443.33 58.63,456.50 64.00,460.00 C69.37,463.50 79.50,461.17 89.00,461.00 C98.50,460.83 112.00,459.33 121.00,459.00 C130.00,458.67 135.17,458.67 143.00,459.00 C150.83,459.33 163.83,460.67 168.00,461.00 L168.00,471.00 C163.83,470.00 150.83,466.17 143.00,465.00 C135.17,463.83 130.00,463.67 121.00,464.00 C112.00,464.33 98.50,466.33 89.00,467.00 C79.50,467.67 69.37,470.50 64.00,468.00 C58.63,465.50 58.00,454.67 56.80,452.00 Z" fill="#e5e5e5"/>
<circle cx="56.4" cy="435.6" r="3.4" fill="none" stroke="#262626" stroke-width="1.25"/>
<circle cx="56.8" cy="436.5" r="3.4" fill="none" stroke="#262626" stroke-width="1.25"/>
<circle cx="57.2" cy="435.2" r="3.4" fill="none" stroke="#262626" stroke-width="1.25"/>
<circle cx="56.4" cy="442.3" r="3.4" fill="none" stroke="#262626" stroke-width="1.25"/>
<circle cx="57.0" cy="448.0" r="3.4" fill="none" stroke="#262626" stroke-width="1.25"/>
<circle cx="56.0" cy="452.0" r="3.4" fill="none" stroke="#262626" stroke-width="1.25"/>
<circle cx="57.5" cy="459.5" r="3.4" fill="none" stroke="#262626" stroke-width="1.25"/>
<circle cx="58.3" cy="454.7" r="3.4" fill="none" stroke="#262626" stroke-width="1.25"/>
<circle cx="58.1" cy="455.2" r="3.4" fill="none" stroke="#262626" stroke-width="1.25"/>
<circle cx="54.6" cy="465.8" r="3.4" fill="none" stroke="#262626" stroke-width="1.25"/>
<circle cx="59.0" cy="461.7" r="3.4" fill="none" stroke="#262626" stroke-width="1.25"/>
<circle cx="58.8" cy="472.5" r="3.4" fill="none" stroke="#262626" stroke-width="1.25"/>
<circle cx="56.8" cy="470.2" r="3.4" fill="none" stroke="#262626" stroke-width="1.25"/>
<circle cx="57.1" cy="463.4" r="3.4" fill="none" stroke="#262626" stroke-width="1.25"/>
<circle cx="54.6" cy="470.7" r="3.4" fill="none" stroke="#262626" stroke-width="1.25"/>
<circle cx="55.8" cy="455.4" r="3.4" fill="none" stroke="#262626" stroke-width="1.25"/>
<circle cx="58.2" cy="471.8" r="3.4" fill="none" stroke="#262626" stroke-width="1.25"/>
<circle cx="58.3" cy="472.1" r="3.4" fill="none" stroke="#262626" stroke-width="1.25"/>
<circle cx="57.5" cy="472.3" r="3.4" fill="none" stroke="#262626" stroke-width="1.25"/>
<circle cx="54.5" cy="456.4" r="3.4" fill="none" stroke="#262626" stroke-width="1.25"/>
<circle cx="55.5" cy="470.8" r="3.4" fill="none" stroke="#262626" stroke-width="1.25"/>
<circle cx="59.2" cy="456.4" r="3.4" fill="none" stroke="#262626" stroke-width="1.25"/>
<circle cx="55.9" cy="454.2" r="3.4" fill="none" stroke="#262626" stroke-width="1.25"/>
<circle cx="57.1" cy="461.0" r="3.4" fill="none" stroke="#262626" stroke-width="1.25"/>
<circle cx="55.5" cy="454.7" r="3.4" fill="none" stroke="#262626" stroke-width="1.25"/>
<circle cx="57.8" cy="454.1" r="3.4" fill="none" stroke="#262626" stroke-width="1.25"/>
<circle cx="58.8" cy="469.2" r="3.4" fill="none" stroke="#262626" stroke-width="1.25"/>
<circle cx="56.2" cy="471.6" r="3.4" fill="none" stroke="#262626" stroke-width="1.25"/>
<circle cx="55.2" cy="473.3" r="3.4" fill="none" stroke="#262626" stroke-width="1.25"/>
<circle cx="55.9" cy="462.7" r="3.4" fill="none" stroke="#262626" stroke-width="1.25"/>
<circle cx="54.5" cy="461.0" r="3.4" fill="none" stroke="#262626" stroke-width="1.25"/>
<circle cx="56.1" cy="469.0" r="3.4" fill="none" stroke="#262626" stroke-width="1.25"/>
<circle cx="58.4" cy="465.4" r="3.4" fill="none" stroke="#262626" stroke-width="1.25"/>
<circle cx="56.0" cy="465.4" r="3.4" fill="none" stroke="#262626" stroke-width="1.25"/>
<circle cx="57.9" cy="473.4" r="3.4" fill="none" stroke="#262626" stroke-width="1.25"/>
<circle cx="59.2" cy="473.8" r="3.4" fill="none" stroke="#262626" stroke-width="1.25"/>
<circle cx="70.0" cy="447.5" r="3.4" fill="none" stroke="#262626" stroke-width="1.25"/>
<circle cx="65.2" cy="450.3" r="3.4" fill="none" stroke="#262626" stroke-width="1.25"/>
<circle cx="67.5" cy="459.6" r="3.4" fill="none" stroke="#262626" stroke-width="1.25"/>
<circle cx="65.2" cy="473.8" r="3.4" fill="none" stroke="#262626" stroke-width="1.25"/>
<circle cx="66.3" cy="441.8" r="3.4" fill="none" stroke="#262626" stroke-width="1.25"/>
<circle cx="66.4" cy="451.9" r="3.4" fill="none" stroke="#262626" stroke-width="1.25"/>
<circle cx="71.2" cy="442.5" r="3.4" fill="none" stroke="#262626" stroke-width="1.25"/>
<circle cx="67.4" cy="467.4" r="3.4" fill="none" stroke="#262626" stroke-width="1.25"/>
<circle cx="68.6" cy="450.9" r="3.4" fill="none" stroke="#262626" stroke-width="1.25"/>
<circle cx="65.8" cy="452.2" r="3.4" fill="none" stroke="#262626" stroke-width="1.25"/>
<circle cx="70.4" cy="446.8" r="3.4" fill="none" stroke="#262626" stroke-width="1.25"/>
<circle cx="65.3" cy="442.3" r="3.4" fill="none" stroke="#262626" stroke-width="1.25"/>
<circle cx="65.7" cy="467.8" r="3.4" fill="none" stroke="#262626" stroke-width="1.25"/>
<circle cx="69.1" cy="443.8" r="3.4" fill="none" stroke="#262626" stroke-width="1.25"/>
<circle cx="67.3" cy="443.4" r="3.4" fill="none" stroke="#262626" stroke-width="1.25"/>
<circle cx="68.7" cy="468.7" r="3.4" fill="none" stroke="#262626" stroke-width="1.25"/>
<circle cx="67.2" cy="471.9" r="3.4" fill="none" stroke="#262626" stroke-width="1.25"/>
<circle cx="65.6" cy="472.4" r="3.4" fill="none" stroke="#262626" stroke-width="1.25"/>
<circle cx="69.6" cy="439.5" r="3.4" fill="none" stroke="#262626" stroke-width="1.25"/>
<circle cx="66.2" cy="473.8" r="3.4" fill="none" stroke="#262626" stroke-width="1.25"/>
<circle cx="71.6" cy="461.3" r="3.4" fill="none" stroke="#262626" stroke-width="1.25"/>
<circle cx="67.8" cy="470.6" r="3.4" fill="none" stroke="#262626" stroke-width="1.25"/>
<circle cx="69.0" cy="448.5" r="3.4" fill="none" stroke="#262626" stroke-width="1.25"/>
<circle cx="68.1" cy="465.3" r="3.4" fill="none" stroke="#262626" stroke-width="1.25"/>
<circle cx="65.5" cy="443.9" r="3.4" fill="none" stroke="#262626" stroke-width="1.25"/>
<circle cx="65.3" cy="462.8" r="3.4" fill="none" stroke="#262626" stroke-width="1.25"/>
<circle cx="70.6" cy="472.7" r="3.4" fill="none" stroke="#262626" stroke-width="1.25"/>
<circle cx="69.9" cy="442.1" r="3.4" fill="none" stroke="#262626" stroke-width="1.25"/>
<circle cx="69.3" cy="450.3" r="3.4" fill="none" stroke="#262626" stroke-width="1.25"/>
<circle cx="65.8" cy="464.9" r="3.4" fill="none" stroke="#262626" stroke-width="1.25"/>
<circle cx="66.1" cy="447.5" r="3.4" fill="none" stroke="#262626" stroke-width="1.25"/>
<circle cx="67.0" cy="464.3" r="3.4" fill="none" stroke="#262626" stroke-width="1.25"/>
<circle cx="71.7" cy="447.2" r="3.4" fill="none" stroke="#262626" stroke-width="1.25"/>
<circle cx="71.5" cy="464.2" r="3.4" fill="none" stroke="#262626" stroke-width="1.25"/>
<circle cx="68.3" cy="453.1" r="3.4" fill="none" stroke="#262626" stroke-width="1.25"/>
<circle cx="68.3" cy="469.2" r="3.4" fill="none" stroke="#262626" stroke-width="1.25"/>
<circle cx="67.8" cy="472.4" r="3.4" fill="none" stroke="#262626" stroke-width="1.25"/>
<circle cx="67.6" cy="440.0" r="3.4" fill="none" stroke="#262626" stroke-width="1.25"/>
<circle cx="71.4" cy="457.6" r="3.4" fill="none" stroke="#262626" stroke-width="1.25"/>
<circle cx="68.4" cy="467.9" r="3.4" fill="none" stroke="#262626" stroke-width="1.25"/>
<circle cx="65.7" cy="469.7" r="3.4" fill="none" stroke="#262626" stroke-width="1.25"/>
<circle cx="70.3" cy="446.4" r="3.4" fill="none" stroke="#262626" stroke-width="1.25"/>
<circle cx="67.5" cy="450.4" r="3.4" fill="none" stroke="#262626" stroke-width="1.25"/>
<circle cx="70.2" cy="454.7" r="3.4" fill="none" stroke="#262626" stroke-width="1.25"/>
<circle cx="69.5" cy="451.7" r="3.4" fill="none" stroke="#262626" stroke-width="1.25"/>
<circle cx="67.5" cy="454.2" r="3.4" fill="none" stroke="#262626" stroke-width="1.25"/>
<circle cx="67.0" cy="463.1" r="3.4" fill="none" stroke="#262626" stroke-width="1.25"/>
<circle cx="70.2" cy="454.8" r="3.4" fill="none" stroke="#262626" stroke-width="1.25"/>
<circle cx="67.0" cy="442.3" r="3.4" fill="none" stroke="#262626" stroke-width="1.25"/>
<circle cx="69.4" cy="459.5" r="3.4" fill="none" stroke="#262626" stroke-width="1.25"/>
<circle cx="65.2" cy="460.8" r="3.4" fill="none" stroke="#262626" stroke-width="1.25"/>
<circle cx="66.8" cy="455.7" r="3.4" fill="none" stroke="#262626" stroke-width="1.25"/>
<circle cx="68.2" cy="448.9" r="3.4" fill="none" stroke="#262626" stroke-width="1.25"/>
<circle cx="69.4" cy="449.9" r="3.4" fill="none" stroke="#262626" stroke-width="1.25"/>
<circle cx="67.4" cy="456.9" r="3.4" fill="none" stroke="#262626" stroke-width="1.25"/>
<circle cx="82.2" cy="447.5" r="3.4" fill="none" stroke="#262626" stroke-width="1.25"/>
<circle cx="79.6" cy="446.8" r="3.4" fill="none" stroke="#262626" stroke-width="1.25"/>
<circle cx="83.1" cy="454.3" r="3.4" fill="none" stroke="#262626" stroke-width="1.25"/>
<circle cx="83.8" cy="440.6" r="3.4" fill="none" stroke="#262626" stroke-width="1.25"/>
<circle cx="80.7" cy="461.1" r="3.4" fill="none" stroke="#262626" stroke-width="1.25"/>
<circle cx="78.3" cy="447.1" r="3.4" fill="none" stroke="#262626" stroke-width="1.25"/>
<circle cx="83.6" cy="463.1" r="3.4" fill="none" stroke="#262626" stroke-width="1.25"/>
<circle cx="81.9" cy="452.9" r="3.4" fill="none" stroke="#262626" stroke-width="1.25"/>
<circle cx="82.2" cy="471.9" r="3.4" fill="none" stroke="#262626" stroke-width="1.25"/>
<circle cx="82.5" cy="459.0" r="3.4" fill="none" stroke="#262626" stroke-width="1.25"/>
<circle cx="81.7" cy="465.1" r="3.4" fill="none" stroke="#262626" stroke-width="1.25"/>
<circle cx="81.4" cy="450.2" r="3.4" fill="none" stroke="#262626" stroke-width="1.25"/>
<circle cx="81.5" cy="452.8" r="3.4" fill="none" stroke="#262626" stroke-width="1.25"/>
<circle cx="77.4" cy="472.1" r="3.4" fill="none" stroke="#262626" stroke-width="1.25"/>
<circle cx="80.2" cy="456.0" r="3.4" fill="none" stroke="#262626" stroke-width="1.25"/>
<circle cx="78.7" cy="454.4" r="3.4" fill="none" stroke="#262626" stroke-width="1.25"/>
<circle cx="81.5" cy="473.8" r="3.4" fill="none" stroke="#262626" stroke-width="1.25"/>
<circle cx="80.4" cy="470.7" r="3.4" fill="none" stroke="#262626" stroke-width="1.25"/>
<circle cx="77.6" cy="472.6" r="3.4" fill="none" stroke="#262626" stroke-width="1.25"/>
<circle cx="79.4" cy="471.7" r="3.4" fill="none" stroke="#262626" stroke-width="1.25"/>
<circle cx="78.5" cy="473.9" r="3.4" fill="none" stroke="#262626" stroke-width="1.25"/>
<circle cx="80.4" cy="466.4" r="3.4" fill="none" stroke="#262626" stroke-width="1.25"/>
<circle cx="81.4" cy="458.6" r="3.4" fill="none" stroke="#262626" stroke-width="1.25"/>
<circle cx="78.8" cy="443.6" r="3.4" fill="none" stroke="#262626" stroke-width="1.25"/>
<circle cx="77.2" cy="465.6" r="3.4" fill="none" stroke="#262626" stroke-width="1.25"/>
<circle cx="79.1" cy="465.4" r="3.4" fill="none" stroke="#262626" stroke-width="1.25"/>
<circle cx="78.0" cy="447.4" r="3.4" fill="none" stroke="#262626" stroke-width="1.25"/>
<circle cx="79.7" cy="473.9" r="3.4" fill="none" stroke="#262626" stroke-width="1.25"/>
<circle cx="81.4" cy="473.2" r="3.4" fill="none" stroke="#262626" stroke-width="1.25"/>
<circle cx="80.9" cy="467.7" r="3.4" fill="none" stroke="#262626" stroke-width="1.25"/>
<circle cx="81.2" cy="440.6" r="3.4" fill="none" stroke="#262626" stroke-width="1.25"/>
<circle cx="82.8" cy="465.1" r="3.4" fill="none" stroke="#262626" stroke-width="1.25"/>
<circle cx="82.7" cy="456.4" r="3.4" fill="none" stroke="#262626" stroke-width="1.25"/>
<circle cx="79.7" cy="472.5" r="3.4" fill="none" stroke="#262626" stroke-width="1.25"/>
<circle cx="81.3" cy="459.7" r="3.4" fill="none" stroke="#262626" stroke-width="1.25"/>
<circle cx="83.7" cy="440.0" r="3.4" fill="none" stroke="#262626" stroke-width="1.25"/>
<circle cx="81.3" cy="467.3" r="3.4" fill="none" stroke="#262626" stroke-width="1.25"/>
<circle cx="83.3" cy="474.0" r="3.4" fill="none" stroke="#262626" stroke-width="1.25"/>
<circle cx="77.9" cy="459.6" r="3.4" fill="none" stroke="#262626" stroke-width="1.25"/>
<circle cx="81.4" cy="472.5" r="3.4" fill="none" stroke="#262626" stroke-width="1.25"/>
<circle cx="81.5" cy="444.2" r="3.4" fill="none" stroke="#262626" stroke-width="1.25"/>
<circle cx="79.8" cy="464.7" r="3.4" fill="none" stroke="#262626" stroke-width="1.25"/>
<circle cx="78.7" cy="469.1" r="3.4" fill="none" stroke="#262626" stroke-width="1.25"/>
<circle cx="83.8" cy="466.4" r="3.4" fill="none" stroke="#262626" stroke-width="1.25"/>
<circle cx="83.7" cy="443.0" r="3.4" fill="none" stroke="#262626" stroke-width="1.25"/>
<circle cx="81.3" cy="469.9" r="3.4" fill="none" stroke="#262626" stroke-width="1.25"/>
<circle cx="83.9" cy="462.4" r="3.4" fill="none" stroke="#262626" stroke-width="1.25"/>
<circle cx="80.0" cy="468.3" r="3.4" fill="none" stroke="#262626" stroke-width="1.25"/>
<circle cx="83.9" cy="462.5" r="3.4" fill="none" stroke="#262626" stroke-width="1.25"/>
<circle cx="79.1" cy="463.1" r="3.4" fill="none" stroke="#262626" stroke-width="1.25"/>
<circle cx="78.0" cy="457.3" r="3.4" fill="none" stroke="#262626" stroke-width="1.25"/>
<circle cx="80.2" cy="469.0" r="3.4" fill="none" stroke="#262626" stroke-width="1.25"/>
<circle cx="82.5" cy="447.6" r="3.4" fill="none" stroke="#262626" stroke-width="1.25"/>
<circle cx="77.3" cy="461.0" r="3.4" fill="none" stroke="#262626" stroke-width="1.25"/>
<circle cx="79.1" cy="441.8" r="3.4" fill="none" stroke="#262626" stroke-width="1.25"/>
<circle cx="93.9" cy="469.0" r="3.4" fill="none" stroke="#262626" stroke-width="1.25"/>
<circle cx="90.8" cy="471.2" r="3.4" fill="none" stroke="#262626" stroke-width="1.25"/>
<circle cx="95.1" cy="467.8" r="3.4" fill="none" stroke="#262626" stroke-width="1.25"/>
<circle cx="92.8" cy="462.9" r="3.4" fill="none" stroke="#262626" stroke-width="1.25"/>
<circle cx="93.1" cy="459.2" r="3.4" fill="none" stroke="#262626" stroke-width="1.25"/>
<circle cx="93.7" cy="472.0" r="3.4" fill="none" stroke="#262626" stroke-width="1.25"/>
<circle cx="93.8" cy="467.6" r="3.4" fill="none" stroke="#262626" stroke-width="1.25"/>
<circle cx="92.4" cy="466.7" r="3.4" fill="none" stroke="#262626" stroke-width="1.25"/>
<circle cx="91.0" cy="461.4" r="3.4" fill="none" stroke="#262626" stroke-width="1.25"/>
<circle cx="92.0" cy="466.0" r="3.4" fill="none" stroke="#262626" stroke-width="1.25"/>
<circle cx="93.7" cy="459.6" r="3.4" fill="none" stroke="#262626" stroke-width="1.25"/>
<circle cx="89.4" cy="468.8" r="3.4" fill="none" stroke="#262626" stroke-width="1.25"/>
<circle cx="91.9" cy="449.6" r="3.4" fill="none" stroke="#262626" stroke-width="1.25"/>
<circle cx="94.5" cy="460.9" r="3.4" fill="none" stroke="#262626" stroke-width="1.25"/>
<circle cx="89.3" cy="453.9" r="3.4" fill="none" stroke="#262626" stroke-width="1.25"/>
<circle cx="91.8" cy="460.0" r="3.4" fill="none" stroke="#262626" stroke-width="1.25"/>
<circle cx="93.4" cy="458.4" r="3.4" fill="none" stroke="#262626" stroke-width="1.25"/>
<circle cx="92.1" cy="449.7" r="3.4" fill="none" stroke="#262626" stroke-width="1.25"/>
<circle cx="91.5" cy="465.2" r="3.4" fill="none" stroke="#262626" stroke-width="1.25"/>
<circle cx="94.3" cy="470.2" r="3.4" fill="none" stroke="#262626" stroke-width="1.25"/>
<circle cx="91.0" cy="452.3" r="3.4" fill="none" stroke="#262626" stroke-width="1.25"/>
<circle cx="89.6" cy="452.1" r="3.4" fill="none" stroke="#262626" stroke-width="1.25"/>
<circle cx="93.4" cy="464.1" r="3.4" fill="none" stroke="#262626" stroke-width="1.25"/>
<circle cx="90.9" cy="453.9" r="3.4" fill="none" stroke="#262626" stroke-width="1.25"/>
<circle cx="94.7" cy="471.4" r="3.4" fill="none" stroke="#262626" stroke-width="1.25"/>
<circle cx="92.1" cy="460.8" r="3.4" fill="none" stroke="#262626" stroke-width="1.25"/>
<circle cx="92.2" cy="466.8" r="3.4" fill="none" stroke="#262626" stroke-width="1.25"/>
<circle cx="90.1" cy="459.7" r="3.4" fill="none" stroke="#262626" stroke-width="1.25"/>
<circle cx="94.1" cy="473.0" r="3.4" fill="none" stroke="#262626" stroke-width="1.25"/>
<circle cx="90.6" cy="452.6" r="3.4" fill="none" stroke="#262626" stroke-width="1.25"/>
<circle cx="107.4" cy="456.8" r="3.4" fill="none" stroke="#262626" stroke-width="1.25"/>
<circle cx="102.5" cy="454.3" r="3.4" fill="none" stroke="#262626" stroke-width="1.25"/>
<circle cx="108.6" cy="440.9" r="3.4" fill="none" stroke="#262626" stroke-width="1.25"/>
<circle cx="106.8" cy="473.8" r="3.4" fill="none" stroke="#262626" stroke-width="1.25"/>
<circle cx="107.7" cy="471.1" r="3.4" fill="none" stroke="#262626" stroke-width="1.25"/>
<circle cx="106.4" cy="443.3" r="3.4" fill="none" stroke="#262626" stroke-width="1.25"/>
<circle cx="106.9" cy="472.7" r="3.4" fill="none" stroke="#262626" stroke-width="1.25"/>
<circle cx="104.2" cy="445.1" r="3.4" fill="none" stroke="#262626" stroke-width="1.25"/>
<circle cx="103.3" cy="459.0" r="3.4" fill="none" stroke="#262626" stroke-width="1.25"/>
<circle cx="104.9" cy="472.3" r="3.4" fill="none" stroke="#262626" stroke-width="1.25"/>
<circle cx="106.3" cy="473.8" r="3.4" fill="none" stroke="#262626" stroke-width="1.25"/>
<circle cx="103.0" cy="467.0" r="3.4" fill="none" stroke="#262626" stroke-width="1.25"/>
<circle cx="102.8" cy="473.7" r="3.4" fill="none" stroke="#262626" stroke-width="1.25"/>
<circle cx="106.0" cy="453.4" r="3.4" fill="none" stroke="#262626" stroke-width="1.25"/>
<circle cx="107.9" cy="472.7" r="3.4" fill="none" stroke="#262626" stroke-width="1.25"/>
<circle cx="105.1" cy="468.8" r="3.4" fill="none" stroke="#262626" stroke-width="1.25"/>
<circle cx="106.1" cy="463.5" r="3.4" fill="none" stroke="#262626" stroke-width="1.25"/>
<circle cx="108.3" cy="467.2" r="3.4" fill="none" stroke="#262626" stroke-width="1.25"/>
<circle cx="102.7" cy="455.4" r="3.4" fill="none" stroke="#262626" stroke-width="1.25"/>
<circle cx="103.3" cy="458.1" r="3.4" fill="none" stroke="#262626" stroke-width="1.25"/>
<circle cx="105.5" cy="445.5" r="3.4" fill="none" stroke="#262626" stroke-width="1.25"/>
<circle cx="105.9" cy="458.6" r="3.4" fill="none" stroke="#262626" stroke-width="1.25"/>
<circle cx="104.0" cy="461.2" r="3.4" fill="none" stroke="#262626" stroke-width="1.25"/>
<circle cx="103.9" cy="453.1" r="3.4" fill="none" stroke="#262626" stroke-width="1.25"/>
<circle cx="105.6" cy="472.7" r="3.4" fill="none" stroke="#262626" stroke-width="1.25"/>
<circle cx="103.8" cy="467.2" r="3.4" fill="none" stroke="#262626" stroke-width="1.25"/>
<circle cx="107.0" cy="471.9" r="3.4" fill="none" stroke="#262626" stroke-width="1.25"/>
<circle cx="106.9" cy="457.2" r="3.4" fill="none" stroke="#262626" stroke-width="1.25"/>
<circle cx="102.8" cy="456.6" r="3.4" fill="none" stroke="#262626" stroke-width="1.25"/>
<circle cx="102.9" cy="472.9" r="3.4" fill="none" stroke="#262626" stroke-width="1.25"/>
<circle cx="106.1" cy="470.7" r="3.4" fill="none" stroke="#262626" stroke-width="1.25"/>
<circle cx="107.9" cy="463.8" r="3.4" fill="none" stroke="#262626" stroke-width="1.25"/>
<circle cx="104.4" cy="451.0" r="3.4" fill="none" stroke="#262626" stroke-width="1.25"/>
<circle cx="102.5" cy="454.2" r="3.4" fill="none" stroke="#262626" stroke-width="1.25"/>
<circle cx="102.6" cy="472.4" r="3.4" fill="none" stroke="#262626" stroke-width="1.25"/>
<circle cx="108.4" cy="456.1" r="3.4" fill="none" stroke="#262626" stroke-width="1.25"/>
<circle cx="103.7" cy="473.0" r="3.4" fill="none" stroke="#262626" stroke-width="1.25"/>
<circle cx="108.5" cy="456.8" r="3.4" fill="none" stroke="#262626" stroke-width="1.25"/>
<circle cx="107.6" cy="472.6" r="3.4" fill="none" stroke="#262626" stroke-width="1.25"/>
<circle cx="106.3" cy="467.7" r="3.4" fill="none" stroke="#262626" stroke-width="1.25"/>
<circle cx="103.8" cy="468.3" r="3.4" fill="none" stroke="#262626" stroke-width="1.25"/>
<circle cx="106.2" cy="467.9" r="3.4" fill="none" stroke="#262626" stroke-width="1.25"/>
<circle cx="104.8" cy="472.7" r="3.4" fill="none" stroke="#262626" stroke-width="1.25"/>
<circle cx="107.6" cy="457.5" r="3.4" fill="none" stroke="#262626" stroke-width="1.25"/>
<circle cx="107.4" cy="465.3" r="3.4" fill="none" stroke="#262626" stroke-width="1.25"/>
<circle cx="107.8" cy="462.5" r="3.4" fill="none" stroke="#262626" stroke-width="1.25"/>
<circle cx="106.1" cy="460.4" r="3.4" fill="none" stroke="#262626" stroke-width="1.25"/>
<circle cx="107.0" cy="466.5" r="3.4" fill="none" stroke="#262626" stroke-width="1.25"/>
<circle cx="102.9" cy="473.9" r="3.4" fill="none" stroke="#262626" stroke-width="1.25"/>
<circle cx="103.6" cy="473.9" r="3.4" fill="none" stroke="#262626" stroke-width="1.25"/>
<circle cx="108.0" cy="463.8" r="3.4" fill="none" stroke="#262626" stroke-width="1.25"/>
<circle cx="107.2" cy="474.0" r="3.4" fill="none" stroke="#262626" stroke-width="1.25"/>
<circle cx="105.3" cy="446.5" r="3.4" fill="none" stroke="#262626" stroke-width="1.25"/>
<circle cx="106.3" cy="465.5" r="3.4" fill="none" stroke="#262626" stroke-width="1.25"/>
<circle cx="105.3" cy="473.2" r="3.4" fill="none" stroke="#262626" stroke-width="1.25"/>
<circle cx="62.7" cy="472.2" r="3.4" fill="none" stroke="#262626" stroke-width="1.25"/>
<circle cx="75.0" cy="469.7" r="3.4" fill="none" stroke="#262626" stroke-width="1.25"/>
<circle cx="103.3" cy="472.3" r="3.4" fill="none" stroke="#262626" stroke-width="1.25"/>
<circle cx="68.2" cy="470.9" r="3.4" fill="none" stroke="#262626" stroke-width="1.25"/>
<circle cx="63.0" cy="470.8" r="3.4" fill="none" stroke="#262626" stroke-width="1.25"/>
<circle cx="67.2" cy="468.6" r="3.4" fill="none" stroke="#262626" stroke-width="1.25"/>
<circle cx="55.8" cy="463.6" r="3.4" fill="none" stroke="#262626" stroke-width="1.25"/>
<circle cx="74.7" cy="463.4" r="3.4" fill="none" stroke="#262626" stroke-width="1.25"/>
<circle cx="92.5" cy="466.4" r="3.4" fill="none" stroke="#262626" stroke-width="1.25"/>
<circle cx="80.4" cy="463.3" r="3.4" fill="none" stroke="#262626" stroke-width="1.25"/>
<circle cx="60.6" cy="466.5" r="3.4" fill="none" stroke="#262626" stroke-width="1.25"/>
<circle cx="70.3" cy="466.4" r="3.4" fill="none" stroke="#262626" stroke-width="1.25"/>
<circle cx="94.8" cy="472.2" r="3.4" fill="none" stroke="#262626" stroke-width="1.25"/>
<circle cx="65.3" cy="473.8" r="3.4" fill="none" stroke="#262626" stroke-width="1.25"/>
<circle cx="66.9" cy="473.2" r="3.4" fill="none" stroke="#262626" stroke-width="1.25"/>
<circle cx="76.5" cy="463.0" r="3.4" fill="none" stroke="#262626" stroke-width="1.25"/>
<circle cx="74.4" cy="470.5" r="3.4" fill="none" stroke="#262626" stroke-width="1.25"/>
<circle cx="80.2" cy="470.8" r="3.4" fill="none" stroke="#262626" stroke-width="1.25"/>
<circle cx="95.0" cy="465.9" r="3.4" fill="none" stroke="#262626" stroke-width="1.25"/>
<circle cx="63.1" cy="471.3" r="3.4" fill="none" stroke="#262626" stroke-width="1.25"/>
<circle cx="91.6" cy="463.4" r="3.4" fill="none" stroke="#262626" stroke-width="1.25"/>
<circle cx="90.2" cy="469.2" r="3.4" fill="none" stroke="#262626" stroke-width="1.25"/>
<circle cx="108.6" cy="474.0" r="3.4" fill="none" stroke="#262626" stroke-width="1.25"/>
<circle cx="57.4" cy="465.2" r="3.4" fill="none" stroke="#262626" stroke-width="1.25"/>
<circle cx="77.0" cy="473.5" r="3.4" fill="none" stroke="#262626" stroke-width="1.25"/>
<circle cx="84.7" cy="462.8" r="3.4" fill="none" stroke="#262626" stroke-width="1.25"/>
<circle cx="83.1" cy="470.1" r="3.4" fill="none" stroke="#262626" stroke-width="1.25"/>
<circle cx="59.3" cy="473.2" r="3.4" fill="none" stroke="#262626" stroke-width="1.25"/>
<circle cx="104.3" cy="468.5" r="3.4" fill="none" stroke="#262626" stroke-width="1.25"/>
<circle cx="106.4" cy="473.4" r="3.4" fill="none" stroke="#262626" stroke-width="1.25"/>
<circle cx="67.6" cy="473.5" r="3.4" fill="none" stroke="#262626" stroke-width="1.25"/>
<circle cx="76.2" cy="473.4" r="3.4" fill="none" stroke="#262626" stroke-width="1.25"/>
<circle cx="68.3" cy="469.4" r="3.4" fill="none" stroke="#262626" stroke-width="1.25"/>
<circle cx="71.1" cy="473.5" r="3.4" fill="none" stroke="#262626" stroke-width="1.25"/>
<circle cx="56.1" cy="463.0" r="3.4" fill="none" stroke="#262626" stroke-width="1.25"/>
<circle cx="64.0" cy="468.3" r="3.4" fill="none" stroke="#262626" stroke-width="1.25"/>
<circle cx="76.5" cy="468.0" r="3.4" fill="none" stroke="#262626" stroke-width="1.25"/>
<circle cx="58.7" cy="470.5" r="3.4" fill="none" stroke="#262626" stroke-width="1.25"/>
<circle cx="60.0" cy="467.9" r="3.4" fill="none" stroke="#262626" stroke-width="1.25"/>
<circle cx="105.6" cy="467.3" r="3.4" fill="none" stroke="#262626" stroke-width="1.25"/>
<circle cx="94.3" cy="463.7" r="3.4" fill="none" stroke="#262626" stroke-width="1.25"/>
<circle cx="89.3" cy="452.7" r="3.4" fill="none" stroke="#262626" stroke-width="1.25"/>
<circle cx="92.1" cy="451.6" r="3.4" fill="none" stroke="#262626" stroke-width="1.25"/>
<circle cx="91.5" cy="449.9" r="3.4" fill="none" stroke="#262626" stroke-width="1.25"/>
<circle cx="93.6" cy="440.9" r="3.4" fill="none" stroke="#262626" stroke-width="1.25"/>
<circle cx="91.0" cy="455.6" r="3.4" fill="none" stroke="#262626" stroke-width="1.25"/>
<circle cx="94.2" cy="463.3" r="3.4" fill="none" stroke="#262626" stroke-width="1.25"/>
<circle cx="89.9" cy="460.3" r="3.4" fill="none" stroke="#262626" stroke-width="1.25"/>
<circle cx="89.7" cy="445.2" r="3.4" fill="none" stroke="#262626" stroke-width="1.25"/>
<circle cx="94.1" cy="460.2" r="3.4" fill="none" stroke="#262626" stroke-width="1.25"/>
<circle cx="90.0" cy="468.6" r="3.4" fill="none" stroke="#262626" stroke-width="1.25"/>
<circle cx="90.7" cy="468.5" r="3.4" fill="none" stroke="#262626" stroke-width="1.25"/>
<circle cx="91.8" cy="451.5" r="3.4" fill="none" stroke="#262626" stroke-width="1.25"/>
<circle cx="90.7" cy="469.4" r="3.4" fill="none" stroke="#262626" stroke-width="1.25"/>
<circle cx="93.4" cy="470.0" r="3.4" fill="none" stroke="#262626" stroke-width="1.25"/>
<circle cx="90.4" cy="461.1" r="3.4" fill="none" stroke="#262626" stroke-width="1.25"/>
<circle cx="91.4" cy="467.9" r="3.4" fill="none" stroke="#262626" stroke-width="1.25"/>
<circle cx="91.7" cy="460.2" r="3.4" fill="none" stroke="#262626" stroke-width="1.25"/>
<circle cx="93.7" cy="452.1" r="3.4" fill="none" stroke="#262626" stroke-width="1.25"/>
<circle cx="94.6" cy="449.0" r="3.4" fill="none" stroke="#262626" stroke-width="1.25"/>
<circle cx="124.1" cy="464.9" r="3.4" fill="none" stroke="#262626" stroke-width="1.25"/>
<circle cx="120.3" cy="461.5" r="3.4" fill="none" stroke="#262626" stroke-width="1.25"/>
<circle cx="122.9" cy="459.6" r="3.4" fill="none" stroke="#262626" stroke-width="1.25"/>
<circle cx="123.7" cy="463.1" r="3.4" fill="none" stroke="#262626" stroke-width="1.25"/>
<circle cx="118.2" cy="461.5" r="3.4" fill="none" stroke="#262626" stroke-width="1.25"/>
<circle cx="119.6" cy="471.6" r="3.4" fill="none" stroke="#262626" stroke-width="1.25"/>
<circle cx="115.8" cy="471.0" r="3.4" fill="none" stroke="#262626" stroke-width="1.25"/>
<circle cx="118.2" cy="463.4" r="3.4" fill="none" stroke="#262626" stroke-width="1.25"/>
<circle cx="118.4" cy="472.8" r="3.4" fill="none" stroke="#262626" stroke-width="1.25"/>
<circle cx="124.2" cy="465.1" r="3.4" fill="none" stroke="#262626" stroke-width="1.25"/>
<circle cx="115.3" cy="473.0" r="3.4" fill="none" stroke="#262626" stroke-width="1.25"/>
<circle cx="116.6" cy="468.1" r="3.4" fill="none" stroke="#262626" stroke-width="1.25"/>
<circle cx="125.3" cy="459.6" r="3.4" fill="none" stroke="#262626" stroke-width="1.25"/>
<circle cx="122.3" cy="470.0" r="3.4" fill="none" stroke="#262626" stroke-width="1.25"/>
<circle cx="126.6" cy="469.5" r="3.4" fill="none" stroke="#262626" stroke-width="1.25"/>
<circle cx="126.0" cy="473.8" r="3.4" fill="none" stroke="#262626" stroke-width="1.25"/>
<circle cx="127.5" cy="464.5" r="3.4" fill="none" stroke="#262626" stroke-width="1.25"/>
<circle cx="128.4" cy="472.7" r="3.4" fill="none" stroke="#262626" stroke-width="1.25"/>
<circle cx="127.2" cy="471.7" r="3.4" fill="none" stroke="#262626" stroke-width="1.25"/>
<circle cx="128.3" cy="468.6" r="3.4" fill="none" stroke="#262626" stroke-width="1.25"/>
<circle cx="110.1" cy="386.8" r="3.4" fill="none" stroke="#262626" stroke-width="1.25"/>
<circle cx="63.0" cy="417.8" r="3.4" fill="none" stroke="#262626" stroke-width="1.25"/>
<circle cx="70.2" cy="425.0" r="3.4" fill="none" stroke="#262626" stroke-width="1.25"/>
<circle cx="79.5" cy="430.2" r="3.4" fill="none" stroke="#262626" stroke-width="1.25"/>
<circle cx="91.0" cy="426.5" r="3.4" fill="none" stroke="#262626" stroke-width="1.25"/>
<circle cx="94.3" cy="428.8" r="3.4" fill="none" stroke="#262626" stroke-width="1.25"/>
<circle cx="104.4" cy="432.7" r="3.4" fill="none" stroke="#262626" stroke-width="1.25"/>
<circle cx="108.8" cy="437.7" r="3.4" fill="none" stroke="#262626" stroke-width="1.25"/>
<circle cx="116.7" cy="449.3" r="3.4" fill="none" stroke="#262626" stroke-width="1.25"/>
<circle cx="67.6" cy="434.5" r="3.4" fill="none" stroke="#262626" stroke-width="1.25"/>
<circle cx="91.0" cy="442.0" r="3.4" fill="none" stroke="#262626" stroke-width="1.25"/>
<circle cx="129.3" cy="437.6" r="3.4" fill="none" stroke="#262626" stroke-width="1.25"/>
<circle cx="129.3" cy="444.5" r="3.4" fill="none" stroke="#262626" stroke-width="1.25"/>
<circle cx="128.8" cy="449.1" r="3.4" fill="none" stroke="#262626" stroke-width="1.25"/>
<circle cx="116.9" cy="449.7" r="3.4" fill="none" stroke="#262626" stroke-width="1.25"/>
<circle cx="118.2" cy="457.6" r="3.4" fill="none" stroke="#262626" stroke-width="1.25"/>
<circle cx="151.7" cy="453.5" r="3.4" fill="none" stroke="#262626" stroke-width="1.25"/>
<circle cx="154.9" cy="455.1" r="3.4" fill="none" stroke="#262626" stroke-width="1.25"/>
<circle cx="152.5" cy="466.6" r="3.4" fill="none" stroke="#262626" stroke-width="1.25"/>
<circle cx="154.9" cy="472.0" r="3.4" fill="none" stroke="#262626" stroke-width="1.25"/>
<circle cx="161.5" cy="470.7" r="3.4" fill="none" stroke="#262626" stroke-width="1.25"/>
<circle cx="167.2" cy="463.3" r="3.4" fill="none" stroke="#262626" stroke-width="1.25"/>
<circle cx="169.2" cy="470.3" r="3.4" fill="none" stroke="#262626" stroke-width="1.25"/>
<circle cx="86.0" cy="436.0" r="3.4" fill="none" stroke="#262626" stroke-width="1.25"/>
<circle cx="100.0" cy="440.0" r="3.4" fill="none" stroke="#262626" stroke-width="1.25"/>
<path d="M56.80,445.90 C57.17,447.25 58.13,451.48 59.00,454.00 C59.87,456.52 61.03,459.23 62.00,461.00 C62.97,462.77 63.47,464.02 64.80,464.60 C66.13,465.18 65.92,464.62 70.00,464.50 C74.08,464.38 82.63,464.37 89.30,463.90 C95.97,463.43 104.72,462.13 110.00,461.70 C115.28,461.27 115.55,461.22 121.00,461.30 C126.45,461.38 136.20,461.67 142.70,462.20 C149.20,462.73 155.78,463.77 160.00,464.50 C164.22,465.23 166.67,466.25 168.00,466.60" fill="none" stroke="#b94c42" stroke-width="1.7"/>
</g>
<rect x="46.00" y="354.80" width="149.40" height="130.30" fill="none" stroke="#141414" stroke-width="1.3"/>
<line x1="43.00" y1="360.80" x2="46.00" y2="360.80" stroke="#141414" stroke-width="1"/>
<text transform="translate(39.90,363.70) scale(1.12,1)" font-size="8.2" text-anchor="end" fill="#333" font-weight="normal" >200</text>
<line x1="43.00" y1="398.55" x2="46.00" y2="398.55" stroke="#141414" stroke-width="1"/>
<text transform="translate(39.90,401.45) scale(1.12,1)" font-size="8.2" text-anchor="end" fill="#333" font-weight="normal" >100</text>
<line x1="43.00" y1="436.30" x2="46.00" y2="436.30" stroke="#141414" stroke-width="1"/>
<text transform="translate(39.90,439.20) scale(1.12,1)" font-size="8.2" text-anchor="end" fill="#333" font-weight="normal" >0</text>
<line x1="43.00" y1="474.05" x2="46.00" y2="474.05" stroke="#141414" stroke-width="1"/>
<text transform="translate(39.90,476.95) scale(1.12,1)" font-size="8.2" text-anchor="end" fill="#333" font-weight="normal" >100</text>
<rect x="21.1" y="473.60" width="4.2" height="0.9" fill="#444"/>
<line x1="56.40" y1="485.10" x2="56.40" y2="488.10" stroke="#141414" stroke-width="1"/>
<text transform="translate(56.40,498.90) scale(1.12,1)" font-size="8.2" text-anchor="middle" fill="#333" font-weight="normal" >0</text>
<line x1="92.61" y1="485.10" x2="92.61" y2="488.10" stroke="#141414" stroke-width="1"/>
<text transform="translate(92.61,498.90) scale(1.12,1)" font-size="8.2" text-anchor="middle" fill="#333" font-weight="normal" >3</text>
<line x1="128.82" y1="485.10" x2="128.82" y2="488.10" stroke="#141414" stroke-width="1"/>
<text transform="translate(128.82,498.90) scale(1.12,1)" font-size="8.2" text-anchor="middle" fill="#333" font-weight="normal" >6</text>
<line x1="165.03" y1="485.10" x2="165.03" y2="488.10" stroke="#141414" stroke-width="1"/>
<text transform="translate(165.03,498.90) scale(1.12,1)" font-size="8.2" text-anchor="middle" fill="#333" font-weight="normal" >9</text>
<rect x="204.60" y="332.80" width="148.60" height="22.00" fill="#e2e2e2" stroke="#141414" stroke-width="1.3"/>
<text transform="translate(278.90,347.45) scale(1.12,1)" font-size="9.2" text-anchor="middle" fill="#222" font-weight="normal" stroke="#222" stroke-width="0.05" >24 mg/kg</text>
<clipPath id="cp21"><rect x="204.60" y="354.80" width="148.60" height="130.30"/></clipPath>
<rect x="204.60" y="354.80" width="148.60" height="130.30" fill="#fff" stroke="none"/>
<g clip-path="url(#cp21)">
<path d="M226.00,462.00 C227.00,460.33 229.82,454.33 232.00,452.00 C234.18,449.67 234.10,448.00 239.10,448.00 C244.10,448.00 253.45,451.53 262.00,452.00 C270.55,452.47 282.25,451.97 290.40,450.80 C298.55,449.63 307.48,445.97 310.90,445.00 L310.90,480.60 C307.48,479.67 298.55,476.18 290.40,475.00 C282.25,473.82 270.55,473.67 262.00,473.50 C253.45,473.33 244.10,473.25 239.10,474.00 C234.10,474.75 234.18,478.00 232.00,478.00 C229.82,478.00 227.00,474.67 226.00,474.00 Z" fill="#e5e5e5"/>
<circle cx="214.4" cy="435.7" r="3.4" fill="none" stroke="#383838" stroke-width="1.25"/>
<circle cx="214.7" cy="435.4" r="3.4" fill="none" stroke="#383838" stroke-width="1.25"/>
<circle cx="214.2" cy="436.0" r="3.4" fill="none" stroke="#383838" stroke-width="1.25"/>
<circle cx="216.4" cy="468.7" r="3.4" fill="none" stroke="#383838" stroke-width="1.25"/>
<circle cx="217.0" cy="472.1" r="3.4" fill="none" stroke="#383838" stroke-width="1.25"/>
<circle cx="226.3" cy="463.0" r="3.4" fill="none" stroke="#383838" stroke-width="1.25"/>
<circle cx="226.3" cy="467.3" r="3.4" fill="none" stroke="#383838" stroke-width="1.25"/>
<circle cx="226.3" cy="470.7" r="3.4" fill="none" stroke="#383838" stroke-width="1.25"/>
<circle cx="237.2" cy="459.9" r="3.4" fill="none" stroke="#383838" stroke-width="1.25"/>
<circle cx="238.6" cy="467.3" r="3.4" fill="none" stroke="#383838" stroke-width="1.25"/>
<circle cx="248.5" cy="458.7" r="3.4" fill="none" stroke="#383838" stroke-width="1.25"/>
<circle cx="248.5" cy="463.6" r="3.4" fill="none" stroke="#383838" stroke-width="1.25"/>
<circle cx="248.5" cy="468.7" r="3.4" fill="none" stroke="#383838" stroke-width="1.25"/>
<circle cx="262.8" cy="463.6" r="3.4" fill="none" stroke="#383838" stroke-width="1.25"/>
<circle cx="262.8" cy="468.7" r="3.4" fill="none" stroke="#383838" stroke-width="1.25"/>
<circle cx="298.9" cy="463.0" r="3.4" fill="none" stroke="#383838" stroke-width="1.25"/>
<circle cx="310.9" cy="463.6" r="3.4" fill="none" stroke="#383838" stroke-width="1.25"/>
<path d="M214.40,445.00 C215.00,447.17 216.72,454.20 218.00,458.00 C219.28,461.80 220.47,466.40 222.10,467.80 C223.73,469.20 225.43,467.10 227.80,466.40 C230.17,465.70 232.93,463.92 236.30,463.60 C239.67,463.28 243.73,464.27 248.00,464.50 C252.27,464.73 254.83,464.92 261.90,465.00 C268.97,465.08 282.23,465.23 290.40,465.00 C298.57,464.77 307.48,463.83 310.90,463.60" fill="none" stroke="#b94c42" stroke-width="1.7"/>
</g>
<rect x="204.60" y="354.80" width="148.60" height="130.30" fill="none" stroke="#141414" stroke-width="1.3"/>
<line x1="215.00" y1="485.10" x2="215.00" y2="488.10" stroke="#141414" stroke-width="1"/>
<text transform="translate(215.00,498.90) scale(1.12,1)" font-size="8.2" text-anchor="middle" fill="#333" font-weight="normal" >0</text>
<line x1="251.21" y1="485.10" x2="251.21" y2="488.10" stroke="#141414" stroke-width="1"/>
<text transform="translate(251.21,498.90) scale(1.12,1)" font-size="8.2" text-anchor="middle" fill="#333" font-weight="normal" >3</text>
<line x1="287.42" y1="485.10" x2="287.42" y2="488.10" stroke="#141414" stroke-width="1"/>
<text transform="translate(287.42,498.90) scale(1.12,1)" font-size="8.2" text-anchor="middle" fill="#333" font-weight="normal" >6</text>
<line x1="323.63" y1="485.10" x2="323.63" y2="488.10" stroke="#141414" stroke-width="1"/>
<text transform="translate(323.63,498.90) scale(1.12,1)" font-size="8.2" text-anchor="middle" fill="#333" font-weight="normal" >9</text>
<text transform="translate(8.60,17.80)" font-size="11.8" text-anchor="start" fill="#111" font-weight="bold" stroke="#111" stroke-width="0.45" >A</text>
<text transform="translate(279.00,513.00)" font-size="9.2" text-anchor="middle" fill="#2a2a2a" font-weight="normal" stroke="#2a2a2a" stroke-width="0.3" textLength="41.5" lengthAdjust="spacingAndGlyphs" >Time (weeks)</text>
<text transform="translate(16.6,247.4) rotate(-90)" x="0" y="0" font-size="9.4" stroke="#2a2a2a" stroke-width="0.3" text-anchor="middle" fill="#2a2a2a" textLength="123" lengthAdjust="spacingAndGlyphs">NK cell change relative to baseline (%)</text>
<text transform="translate(8.90,535.30)" font-size="11.5" text-anchor="start" fill="#111" font-weight="bold" stroke="#111" stroke-width="0.45" >B</text>
<rect x="49.30" y="582.01" width="18.8" height="91.49" fill="#ab002f"/>
<line x1="58.70" y1="572.58" x2="58.70" y2="591.44" stroke="#1e1e1e" stroke-width="1.3"/>
<line x1="55.10" y1="572.58" x2="62.30" y2="572.58" stroke="#1e1e1e" stroke-width="1.3"/>
<line x1="55.10" y1="591.44" x2="62.30" y2="591.44" stroke="#1e1e1e" stroke-width="1.3"/>
<line x1="58.70" y1="673.50" x2="58.70" y2="676.90" stroke="#141414" stroke-width="1.2"/>
<rect x="75.30" y="652.33" width="18.8" height="21.17" fill="#ab002f"/>
<line x1="84.70" y1="649.48" x2="84.70" y2="655.18" stroke="#1e1e1e" stroke-width="1.3"/>
<line x1="81.10" y1="649.48" x2="88.30" y2="649.48" stroke="#1e1e1e" stroke-width="1.3"/>
<line x1="81.10" y1="655.18" x2="88.30" y2="655.18" stroke="#1e1e1e" stroke-width="1.3"/>
<line x1="84.70" y1="673.50" x2="84.70" y2="676.90" stroke="#141414" stroke-width="1.2"/>
<rect x="101.30" y="653.81" width="18.8" height="19.69" fill="#ab002f"/>
<line x1="110.70" y1="651.07" x2="110.70" y2="656.55" stroke="#1e1e1e" stroke-width="1.3"/>
<line x1="107.10" y1="651.07" x2="114.30" y2="651.07" stroke="#1e1e1e" stroke-width="1.3"/>
<line x1="107.10" y1="656.55" x2="114.30" y2="656.55" stroke="#1e1e1e" stroke-width="1.3"/>
<line x1="110.70" y1="673.50" x2="110.70" y2="676.90" stroke="#141414" stroke-width="1.2"/>
<rect x="127.30" y="651.94" width="18.8" height="21.56" fill="#ab002f"/>
<line x1="136.70" y1="648.10" x2="136.70" y2="655.78" stroke="#1e1e1e" stroke-width="1.3"/>
<line x1="133.10" y1="648.10" x2="140.30" y2="648.10" stroke="#1e1e1e" stroke-width="1.3"/>
<line x1="133.10" y1="655.78" x2="140.30" y2="655.78" stroke="#1e1e1e" stroke-width="1.3"/>
<line x1="136.70" y1="673.50" x2="136.70" y2="676.90" stroke="#141414" stroke-width="1.2"/>
<rect x="153.30" y="652.55" width="18.8" height="20.95" fill="#ab002f"/>
<line x1="162.70" y1="648.27" x2="162.70" y2="656.83" stroke="#1e1e1e" stroke-width="1.3"/>
<line x1="159.10" y1="648.27" x2="166.30" y2="648.27" stroke="#1e1e1e" stroke-width="1.3"/>
<line x1="159.10" y1="656.83" x2="166.30" y2="656.83" stroke="#1e1e1e" stroke-width="1.3"/>
<line x1="162.70" y1="673.50" x2="162.70" y2="676.90" stroke="#141414" stroke-width="1.2"/>
<rect x="179.30" y="652.55" width="18.8" height="20.95" fill="#ab002f"/>
<line x1="188.70" y1="647.34" x2="188.70" y2="657.76" stroke="#1e1e1e" stroke-width="1.3"/>
<line x1="185.10" y1="647.34" x2="192.30" y2="647.34" stroke="#1e1e1e" stroke-width="1.3"/>
<line x1="185.10" y1="657.76" x2="192.30" y2="657.76" stroke="#1e1e1e" stroke-width="1.3"/>
<line x1="188.70" y1="673.50" x2="188.70" y2="676.90" stroke="#141414" stroke-width="1.2"/>
<rect x="205.30" y="646.29" width="18.8" height="27.21" fill="#ab002f"/>
<line x1="214.70" y1="643.06" x2="214.70" y2="649.53" stroke="#1e1e1e" stroke-width="1.3"/>
<line x1="211.10" y1="643.06" x2="218.30" y2="643.06" stroke="#1e1e1e" stroke-width="1.3"/>
<line x1="211.10" y1="649.53" x2="218.30" y2="649.53" stroke="#1e1e1e" stroke-width="1.3"/>
<line x1="214.70" y1="673.50" x2="214.70" y2="676.90" stroke="#141414" stroke-width="1.2"/>
<rect x="231.30" y="608.06" width="18.8" height="65.44" fill="#ab002f"/>
<line x1="240.70" y1="597.64" x2="240.70" y2="618.49" stroke="#1e1e1e" stroke-width="1.3"/>
<line x1="237.10" y1="597.64" x2="244.30" y2="597.64" stroke="#1e1e1e" stroke-width="1.3"/>
<line x1="237.10" y1="618.49" x2="244.30" y2="618.49" stroke="#1e1e1e" stroke-width="1.3"/>
<line x1="240.70" y1="673.50" x2="240.70" y2="676.90" stroke="#141414" stroke-width="1.2"/>
<line x1="45.7" y1="560.6" x2="45.7" y2="674.10" stroke="#141414" stroke-width="1.3"/>
<line x1="45.1" y1="673.50" x2="252.5" y2="673.50" stroke="#141414" stroke-width="1.3"/>
<line x1="42.3" y1="673.50" x2="45.7" y2="673.50" stroke="#141414" stroke-width="1.1"/>
<text transform="translate(38.60,676.30) scale(1.1,1)" font-size="7.8" text-anchor="end" fill="#333" font-weight="normal" >0</text>
<line x1="42.3" y1="646.08" x2="45.7" y2="646.08" stroke="#141414" stroke-width="1.1"/>
<text transform="translate(38.60,648.88) scale(1.1,1)" font-size="7.8" text-anchor="end" fill="#333" font-weight="normal" >50</text>
<line x1="42.3" y1="618.65" x2="45.7" y2="618.65" stroke="#141414" stroke-width="1.1"/>
<text transform="translate(38.60,621.45) scale(1.1,1)" font-size="7.8" text-anchor="end" fill="#333" font-weight="normal" >100</text>
<line x1="42.3" y1="591.23" x2="45.7" y2="591.23" stroke="#141414" stroke-width="1.1"/>
<text transform="translate(38.60,594.02) scale(1.1,1)" font-size="7.8" text-anchor="end" fill="#333" font-weight="normal" >150</text>
<line x1="42.3" y1="563.80" x2="45.7" y2="563.80" stroke="#141414" stroke-width="1.1"/>
<text transform="translate(38.60,566.60) scale(1.1,1)" font-size="7.8" text-anchor="end" fill="#333" font-weight="normal" >200</text>
<line x1="59.40" y1="565.60" x2="84.40" y2="565.60" stroke="#2a2a2a" stroke-width="1.2"/>
<line x1="59.40" y1="562.40" x2="59.40" y2="568.80" stroke="#2a2a2a" stroke-width="1.1"/>
<line x1="84.40" y1="562.40" x2="84.40" y2="568.80" stroke="#2a2a2a" stroke-width="1.1"/>
<line x1="188.70" y1="555.90" x2="240.60" y2="555.90" stroke="#2a2a2a" stroke-width="1.2"/>
<line x1="188.70" y1="552.70" x2="188.70" y2="559.10" stroke="#2a2a2a" stroke-width="1.1"/>
<line x1="240.60" y1="552.70" x2="240.60" y2="559.10" stroke="#2a2a2a" stroke-width="1.1"/>
<line x1="188.70" y1="564.90" x2="213.60" y2="564.90" stroke="#2a2a2a" stroke-width="1.2"/>
<line x1="188.70" y1="561.30" x2="188.70" y2="568.50" stroke="#2a2a2a" stroke-width="1.1"/>
<line x1="213.60" y1="561.30" x2="213.60" y2="568.50" stroke="#2a2a2a" stroke-width="1.1"/>
<text transform="translate(72.30,564.60) scale(1.05,1)" font-size="9.6" text-anchor="middle" fill="#111" font-weight="normal" stroke="#111" stroke-width="0.2" >****</text>
<text transform="translate(214.70,555.00) scale(1.05,1)" font-size="9.6" text-anchor="middle" fill="#111" font-weight="normal" stroke="#111" stroke-width="0.2" >**</text>
<text transform="translate(201.70,562.30) scale(1.1,1)" font-size="7.4" text-anchor="middle" fill="#333" font-weight="normal" >ns</text>
<text transform="translate(148.80,578.00) scale(1.05,1)" font-size="7.6" text-anchor="middle" fill="#222" font-weight="normal" >N = 21</text>
<text transform="translate(17.5,618.3) rotate(-90)" font-size="9.0" stroke="#2a2a2a" stroke-width="0.3" text-anchor="middle" fill="#2a2a2a" textLength="90" lengthAdjust="spacingAndGlyphs">Total NK-cell count (×10<tspan dy="-2.5" font-size="5.5">6</tspan><tspan dy="2.5">/L)</tspan></text>
<text transform="translate(63.70,684.00) rotate(-45)" font-size="8.2" text-anchor="end" fill="#222" font-weight="normal" >Infusion start</text>
<text transform="translate(89.70,684.00) rotate(-45)" font-size="8.2" text-anchor="end" fill="#222" font-weight="normal" >Infusion 2</text>
<text transform="translate(115.70,684.00) rotate(-45)" font-size="8.2" text-anchor="end" fill="#222" font-weight="normal" >Infusion 4</text>
<text transform="translate(141.70,684.00) rotate(-45)" font-size="8.2" text-anchor="end" fill="#222" font-weight="normal" >Infusion 8</text>
<text transform="translate(167.70,684.00) rotate(-45)" font-size="8.2" text-anchor="end" fill="#222" font-weight="normal" >Infusion 11</text>
<text transform="translate(193.70,684.00) rotate(-45)" font-size="8.2" text-anchor="end" fill="#222" font-weight="normal" >Post-DARA</text>
<text transform="translate(218.70,683.50) rotate(-45)" font-size="8.2" text-anchor="end" fill="#222" font-weight="normal" >3 mo</text>
<text transform="translate(225.70,691.00) rotate(-45)" font-size="8.2" text-anchor="end" fill="#222" font-weight="normal" >post-DARA</text>
<text transform="translate(244.70,683.50) rotate(-45)" font-size="8.2" text-anchor="end" fill="#222" font-weight="normal" >6 mo</text>
<text transform="translate(251.70,691.00) rotate(-45)" font-size="8.2" text-anchor="end" fill="#222" font-weight="normal" >post-DARA</text>
<text transform="translate(299.60,535.30)" font-size="11.6" text-anchor="start" fill="#111" font-weight="bold" stroke="#111" stroke-width="0.45" >C</text>
<clipPath id="cpC"><rect x="338.7" y="541.3" width="161.5" height="132.0"/></clipPath>
<g clip-path="url(#cpC)">
<polygon points="348.0,560.0 349.2,640.0 351.2,650.0 356.0,648.0 365.0,650.0 376.0,650.0 384.0,648.0 392.0,650.0 403.0,647.0 412.7,641.7 421.0,636.0 429.6,632.8 444.4,643.8 450.8,644.9 463.5,647.0 469.8,646.0 476.2,649.1 489.9,649.1 489.9,660.8 479.3,662.9 463.5,659.7 450.8,656.5 440.2,661.8 429.6,654.4 412.7,661.8 404.2,664.0 392.0,663.5 384.0,664.4 370.0,663.0 356.0,664.5 350.5,666.0 348.5,668.0 347.2,600.0" fill="#a3b3cb" opacity="0.58"/>
<polygon points="347.3,546.0 348.3,600.0 349.5,640.0 351.2,646.0 356.0,634.6 360.8,638.5 365.8,652.0 368.3,624.0 377.7,641.4 383.8,640.4 393.5,648.0 398.3,633.7 402.0,648.0 403.0,658.0 403.0,662.0 393.5,666.3 383.8,661.5 368.5,663.5 360.0,662.5 351.2,664.4 349.2,665.0 348.2,620.0 346.5,600.0" fill="#e69aae" opacity="0.6"/>
<polyline points="347.3,589.0 348.7,662.5 355.0,656.7 364.6,659.6 376.2,658.7 383.8,661.2 391.5,657.3 399.2,656.7 404.2,660.8 412.7,656.5 421.2,649.1 429.6,646.0 440.2,653.4 450.8,649.1 461.3,655.5 469.8,652.3 479.3,661.8 489.9,658.7" fill="none" stroke="#2b3a67" stroke-width="1.6" stroke-dasharray="5,3.5"/>
<polyline points="347.3,592.0 349.2,659.6 351.2,661.5 356.0,653.8 359.8,654.8 365.6,660.6 369.4,649.6 376.2,652.9 383.8,647.7 389.6,656.7 397.3,657.7 405.0,661.5 412.7,659.2 419.4,659.2" fill="none" stroke="#a10a3c" stroke-width="1.6"/>
</g>
<rect x="338.7" y="541.3" width="161.50" height="132.00" fill="none" stroke="#141414" stroke-width="1.3"/>
<line x1="335.40" y1="670.50" x2="338.70" y2="670.50" stroke="#141414" stroke-width="1.1"/>
<text transform="translate(332.70,673.30) scale(1.1,1)" font-size="7.8" text-anchor="end" fill="#333" font-weight="normal" >0</text>
<line x1="335.40" y1="642.88" x2="338.70" y2="642.88" stroke="#141414" stroke-width="1.1"/>
<text transform="translate(332.70,645.67) scale(1.1,1)" font-size="7.8" text-anchor="end" fill="#333" font-weight="normal" >50</text>
<line x1="335.40" y1="615.25" x2="338.70" y2="615.25" stroke="#141414" stroke-width="1.1"/>
<text transform="translate(332.70,618.05) scale(1.1,1)" font-size="7.8" text-anchor="end" fill="#333" font-weight="normal" >100</text>
<line x1="335.40" y1="587.62" x2="338.70" y2="587.62" stroke="#141414" stroke-width="1.1"/>
<text transform="translate(332.70,590.42) scale(1.1,1)" font-size="7.8" text-anchor="end" fill="#333" font-weight="normal" >150</text>
<line x1="335.40" y1="560.00" x2="338.70" y2="560.00" stroke="#141414" stroke-width="1.1"/>
<text transform="translate(332.70,562.80) scale(1.1,1)" font-size="7.8" text-anchor="end" fill="#333" font-weight="normal" >200</text>
<line x1="348.30" y1="673.30" x2="348.30" y2="676.60" stroke="#141414" stroke-width="1.1"/>
<text transform="translate(348.30,687.30) scale(1.1,1)" font-size="7.8" text-anchor="middle" fill="#333" font-weight="normal" >0</text>
<line x1="398.86" y1="673.30" x2="398.86" y2="676.60" stroke="#141414" stroke-width="1.1"/>
<text transform="translate(398.86,687.30) scale(1.1,1)" font-size="7.8" text-anchor="middle" fill="#333" font-weight="normal" >20</text>
<line x1="449.42" y1="673.30" x2="449.42" y2="676.60" stroke="#141414" stroke-width="1.1"/>
<text transform="translate(449.42,687.30) scale(1.1,1)" font-size="7.8" text-anchor="middle" fill="#333" font-weight="normal" >40</text>
<line x1="499.98" y1="673.30" x2="499.98" y2="676.60" stroke="#141414" stroke-width="1.1"/>
<text transform="translate(499.98,687.30) scale(1.1,1)" font-size="7.8" text-anchor="middle" fill="#333" font-weight="normal" >60</text>
<text transform="translate(423.60,697.80)" font-size="9.2" text-anchor="middle" fill="#2a2a2a" font-weight="normal" stroke="#2a2a2a" stroke-width="0.3" textLength="42" lengthAdjust="spacingAndGlyphs" >Time (weeks)</text>
<text transform="translate(311.4,607.2) rotate(-90)" font-size="9.0" stroke="#2a2a2a" stroke-width="0.3" text-anchor="middle" fill="#2a2a2a" textLength="80.5" lengthAdjust="spacingAndGlyphs">Absolute counts (×10<tspan dy="-2.5" font-size="5.5">6</tspan><tspan dy="2.5">/L)</tspan></text>
<rect x="453.6" y="549.8" width="5.8" height="5.8" fill="#f2c4cf"/>
<line x1="453.6" y1="552.7" x2="459.4" y2="552.7" stroke="#a10a3c" stroke-width="1.6"/>
<rect x="453.6" y="561.7" width="5.8" height="5.8" fill="#c9d3e2"/>
<line x1="453.6" y1="564.6" x2="459.4" y2="564.6" stroke="#2b3a67" stroke-width="1.6"/>
<text transform="translate(461.90,555.30)" font-size="7.6" text-anchor="start" fill="#222" font-weight="normal" textLength="27.5" lengthAdjust="spacingAndGlyphs" >8 mg/kg</text>
<text transform="translate(461.90,567.20)" font-size="7.6" text-anchor="start" fill="#222" font-weight="normal" textLength="32.2" lengthAdjust="spacingAndGlyphs" >16 mg/kg</text>
<rect x="0.5" y="0.5" width="519" height="728" fill="none" stroke="#000" stroke-width="1.1"/>
</svg>
</body></html>
